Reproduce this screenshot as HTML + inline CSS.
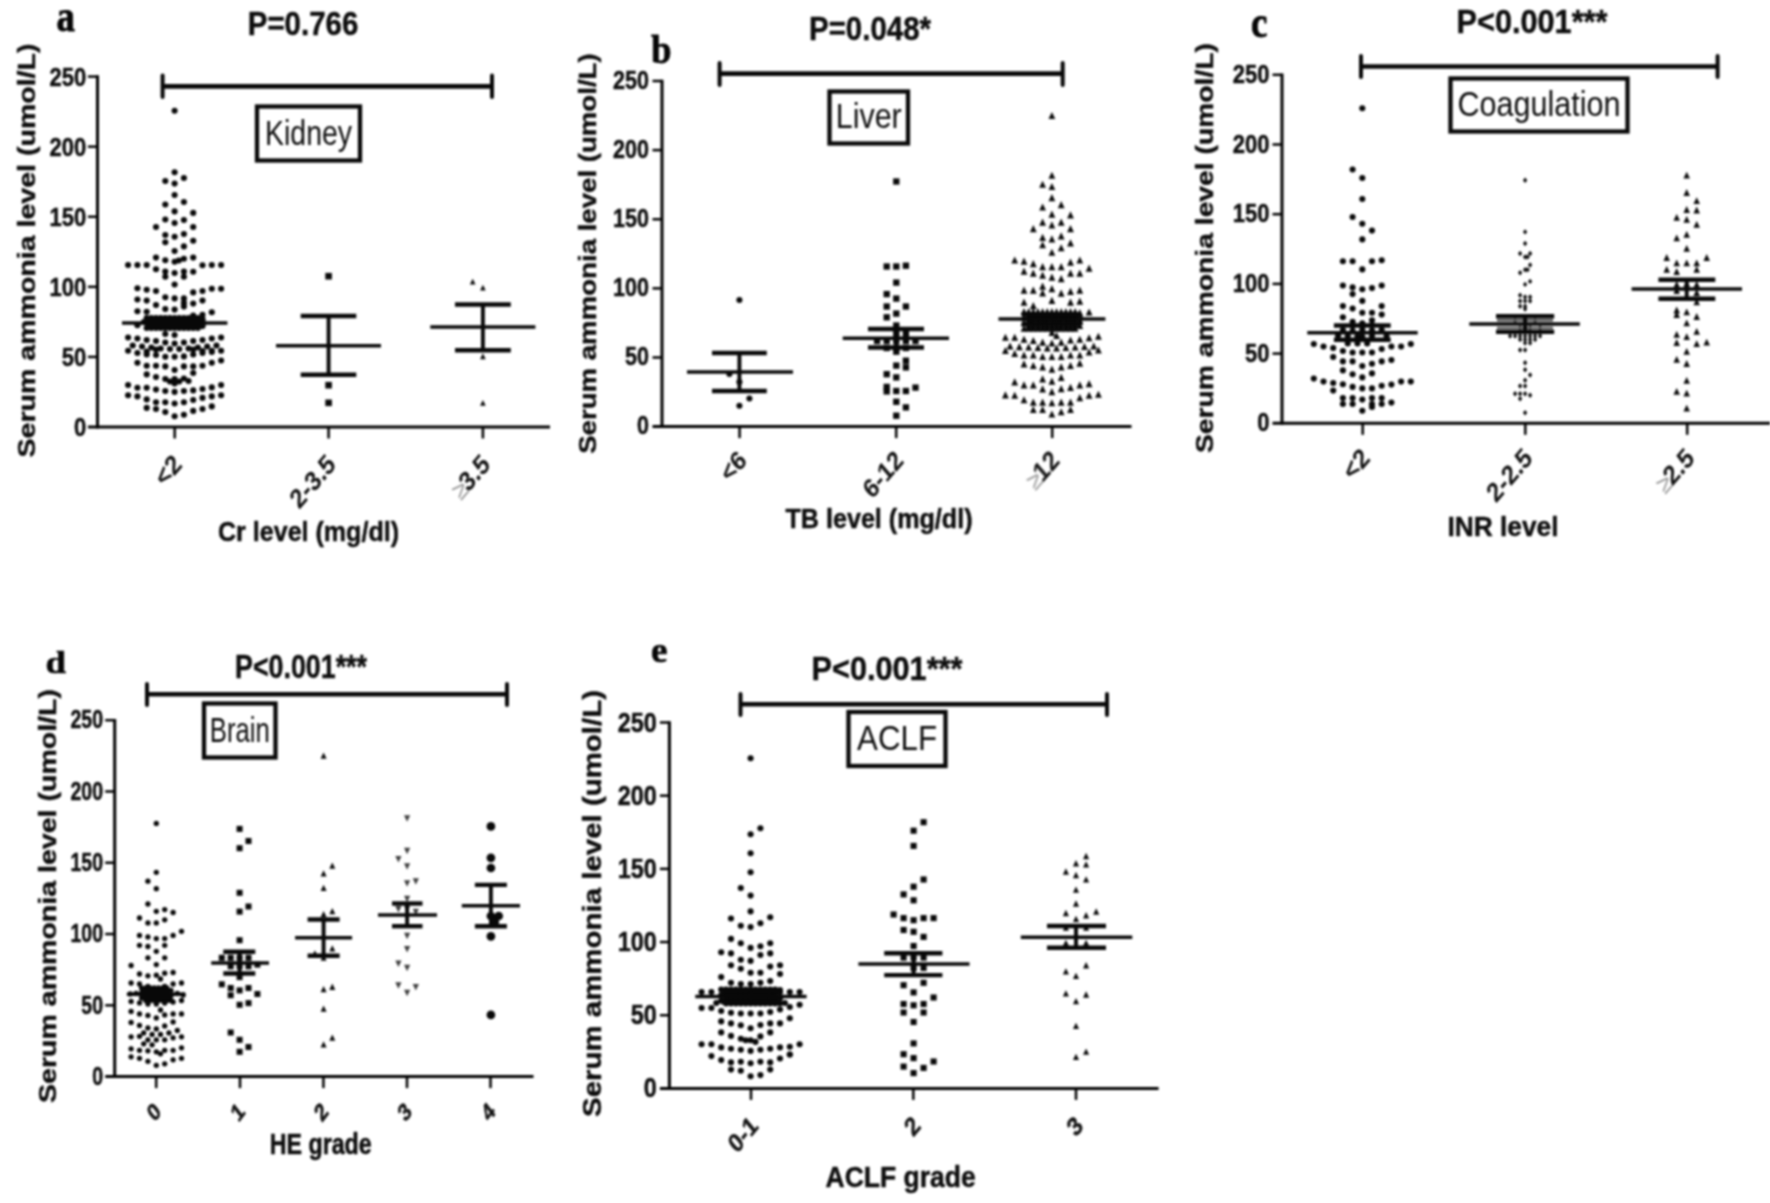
<!DOCTYPE html>
<html lang="en"><head><meta charset="utf-8"><title>Serum ammonia level by organ failure</title>
<style>
html,body{margin:0;padding:0;background:#fff;}
body{width:1770px;height:1203px;overflow:hidden;font-family:'Liberation Sans', Arial, Helvetica, sans-serif;}
svg text{white-space:pre;}
</style></head><body>
<svg width="1770" height="1203" viewBox="0 0 1770 1203" style="display:block">
<defs><filter id="soft" x="0" y="0" width="100%" height="100%" filterUnits="userSpaceOnUse" color-interpolation-filters="sRGB"><feGaussianBlur stdDeviation="0.8"/></filter></defs>
<g filter="url(#soft)">
<g id="panel-a">
<line x1="97.5" y1="75.35" x2="97.5" y2="428.5" stroke="#000" stroke-width="3" stroke-linecap="butt"/>
<line x1="88" y1="427" x2="550" y2="427" stroke="#000" stroke-width="3" stroke-linecap="butt"/>
<line x1="88" y1="76.6" x2="97.5" y2="76.6" stroke="#000" stroke-width="2.5" stroke-linecap="butt"/>
<text transform="translate(86.3 85.74) scale(1 1.16)" font-family="'Liberation Sans', Arial, Helvetica, sans-serif" font-size="22" font-weight="bold" text-anchor="end" fill="#0d0d0d" stroke="#0d0d0d" stroke-width="0.4" stroke-linejoin="round">250</text>
<line x1="88" y1="146.68" x2="97.5" y2="146.68" stroke="#000" stroke-width="2.5" stroke-linecap="butt"/>
<text transform="translate(86.3 155.82) scale(1 1.16)" font-family="'Liberation Sans', Arial, Helvetica, sans-serif" font-size="22" font-weight="bold" text-anchor="end" fill="#0d0d0d" stroke="#0d0d0d" stroke-width="0.4" stroke-linejoin="round">200</text>
<line x1="88" y1="216.76" x2="97.5" y2="216.76" stroke="#000" stroke-width="2.5" stroke-linecap="butt"/>
<text transform="translate(86.3 225.9) scale(1 1.16)" font-family="'Liberation Sans', Arial, Helvetica, sans-serif" font-size="22" font-weight="bold" text-anchor="end" fill="#0d0d0d" stroke="#0d0d0d" stroke-width="0.4" stroke-linejoin="round">150</text>
<line x1="88" y1="286.84" x2="97.5" y2="286.84" stroke="#000" stroke-width="2.5" stroke-linecap="butt"/>
<text transform="translate(86.3 295.98) scale(1 1.16)" font-family="'Liberation Sans', Arial, Helvetica, sans-serif" font-size="22" font-weight="bold" text-anchor="end" fill="#0d0d0d" stroke="#0d0d0d" stroke-width="0.4" stroke-linejoin="round">100</text>
<line x1="88" y1="356.92" x2="97.5" y2="356.92" stroke="#000" stroke-width="2.5" stroke-linecap="butt"/>
<text transform="translate(86.3 366.06) scale(1 1.16)" font-family="'Liberation Sans', Arial, Helvetica, sans-serif" font-size="22" font-weight="bold" text-anchor="end" fill="#0d0d0d" stroke="#0d0d0d" stroke-width="0.4" stroke-linejoin="round">50</text>
<text transform="translate(86.3 436.14) scale(1 1.16)" font-family="'Liberation Sans', Arial, Helvetica, sans-serif" font-size="22" font-weight="bold" text-anchor="end" fill="#0d0d0d" stroke="#0d0d0d" stroke-width="0.4" stroke-linejoin="round">0</text>
<line x1="174.7" y1="427" x2="174.7" y2="438.5" stroke="#000" stroke-width="2.5" stroke-linecap="butt"/>
<text transform="translate(183.2 466) scale(1 1.16) rotate(-45)" font-family="'Liberation Sans', Arial, Helvetica, sans-serif" font-size="23.5" font-weight="bold" text-anchor="end" fill="#141414" stroke="#141414" stroke-width="0.1" stroke-linejoin="round">&lt;2</text>
<line x1="328.6" y1="427" x2="328.6" y2="438.5" stroke="#000" stroke-width="2.5" stroke-linecap="butt"/>
<text transform="translate(337.1 466) scale(1 1.16) rotate(-45)" font-family="'Liberation Sans', Arial, Helvetica, sans-serif" font-size="23.5" font-weight="bold" text-anchor="end" fill="#141414" stroke="#141414" stroke-width="0.1" stroke-linejoin="round">2-3.5</text>
<line x1="482.9" y1="427" x2="482.9" y2="438.5" stroke="#000" stroke-width="2.5" stroke-linecap="butt"/>
<text transform="translate(491.4 466) scale(1 1.16) rotate(-45)" font-family="'Liberation Sans', Arial, Helvetica, sans-serif" font-size="23.5" font-weight="bold" text-anchor="end" fill="#141414" stroke="#141414" stroke-width="0.1" stroke-linejoin="round"><tspan fill="#9a9a9a" stroke="none" font-weight="normal">≥</tspan><tspan dx="-2.5">3.5</tspan></text>
<g>
<circle cx="174.6" cy="110.7" r="3.05" fill="#080808"/>
<circle cx="174.6" cy="172.3" r="3.05" fill="#080808"/>
<circle cx="183.9" cy="178" r="3.05" fill="#080808"/>
<circle cx="165.3" cy="181" r="3.05" fill="#080808"/>
<circle cx="174.6" cy="183.6" r="3.05" fill="#080808"/>
<circle cx="174.6" cy="195" r="3.05" fill="#080808"/>
<circle cx="183.9" cy="202" r="3.05" fill="#080808"/>
<circle cx="165.3" cy="204.5" r="3.05" fill="#080808"/>
<circle cx="174.6" cy="211.4" r="3.05" fill="#080808"/>
<circle cx="193.2" cy="212.9" r="3.05" fill="#080808"/>
<circle cx="165.3" cy="219.5" r="3.05" fill="#080808"/>
<circle cx="183.9" cy="220" r="3.05" fill="#080808"/>
<circle cx="174.6" cy="223" r="3.05" fill="#080808"/>
<circle cx="156" cy="227" r="3.05" fill="#080808"/>
<circle cx="193.2" cy="227" r="3.05" fill="#080808"/>
<circle cx="165.3" cy="235" r="3.05" fill="#080808"/>
<circle cx="183.9" cy="234" r="3.05" fill="#080808"/>
<circle cx="174.6" cy="236.8" r="3.05" fill="#080808"/>
<circle cx="165.3" cy="242.3" r="3.05" fill="#080808"/>
<circle cx="193.2" cy="240.8" r="3.05" fill="#080808"/>
<circle cx="183.9" cy="246.4" r="3.05" fill="#080808"/>
<circle cx="174.6" cy="251" r="3.05" fill="#080808"/>
<circle cx="156" cy="257.6" r="3.05" fill="#080808"/>
<circle cx="193.2" cy="257.6" r="3.05" fill="#080808"/>
<circle cx="165.3" cy="260.3" r="3.05" fill="#080808"/>
<circle cx="183.9" cy="258.8" r="3.05" fill="#080808"/>
<circle cx="174.6" cy="261.8" r="3.05" fill="#080808"/>
<circle cx="178.78" cy="260.5" r="3.05" fill="#080808"/>
<circle cx="128.1" cy="265" r="3.05" fill="#080808"/>
<circle cx="137.4" cy="265" r="3.05" fill="#080808"/>
<circle cx="146.7" cy="265" r="3.05" fill="#080808"/>
<circle cx="202.5" cy="265.3" r="3.05" fill="#080808"/>
<circle cx="211.8" cy="265" r="3.05" fill="#080808"/>
<circle cx="221.1" cy="265" r="3.05" fill="#080808"/>
<circle cx="156" cy="269.2" r="3.05" fill="#080808"/>
<circle cx="193.2" cy="271.7" r="3.05" fill="#080808"/>
<circle cx="165.3" cy="271.5" r="3.05" fill="#080808"/>
<circle cx="165.3" cy="276.7" r="3.05" fill="#080808"/>
<circle cx="174.6" cy="273" r="3.05" fill="#080808"/>
<circle cx="183.9" cy="271.5" r="3.05" fill="#080808"/>
<circle cx="183.9" cy="276.7" r="3.05" fill="#080808"/>
<circle cx="174.6" cy="284.5" r="3.05" fill="#080808"/>
<circle cx="137.4" cy="288.2" r="3.05" fill="#080808"/>
<circle cx="146.7" cy="289.7" r="3.05" fill="#080808"/>
<circle cx="156" cy="291" r="3.05" fill="#080808"/>
<circle cx="193.2" cy="292.4" r="3.05" fill="#080808"/>
<circle cx="202.5" cy="291" r="3.05" fill="#080808"/>
<circle cx="211.8" cy="288.7" r="3.05" fill="#080808"/>
<circle cx="221.1" cy="288.7" r="3.05" fill="#080808"/>
<circle cx="165.3" cy="297.3" r="3.05" fill="#080808"/>
<circle cx="174.6" cy="298.4" r="3.05" fill="#080808"/>
<circle cx="183.9" cy="298.4" r="3.05" fill="#080808"/>
<circle cx="183.9" cy="302.9" r="3.05" fill="#080808"/>
<circle cx="183.9" cy="306.6" r="3.05" fill="#080808"/>
<circle cx="137.4" cy="299.5" r="3.05" fill="#080808"/>
<circle cx="146.7" cy="300.6" r="3.05" fill="#080808"/>
<circle cx="202.5" cy="300.6" r="3.05" fill="#080808"/>
<circle cx="193.2" cy="303.6" r="3.05" fill="#080808"/>
<circle cx="156" cy="305" r="3.05" fill="#080808"/>
<circle cx="165.3" cy="309" r="3.05" fill="#080808"/>
<circle cx="174.6" cy="309.6" r="3.05" fill="#080808"/>
<circle cx="137.4" cy="311.2" r="3.05" fill="#080808"/>
<circle cx="146.7" cy="311.8" r="3.05" fill="#080808"/>
<circle cx="211.8" cy="312.3" r="3.05" fill="#080808"/>
<circle cx="202.5" cy="314.8" r="3.05" fill="#080808"/>
<circle cx="193.2" cy="315.5" r="3.05" fill="#080808"/>
<circle cx="137.4" cy="325.3" r="3.05" fill="#080808"/>
<circle cx="146.7" cy="318" r="3.05" fill="#080808"/>
<circle cx="151.35" cy="318" r="3.05" fill="#080808"/>
<circle cx="156" cy="318" r="3.05" fill="#080808"/>
<circle cx="160.65" cy="318" r="3.05" fill="#080808"/>
<circle cx="165.3" cy="318" r="3.05" fill="#080808"/>
<circle cx="169.95" cy="318" r="3.05" fill="#080808"/>
<circle cx="174.6" cy="318" r="3.05" fill="#080808"/>
<circle cx="179.25" cy="318" r="3.05" fill="#080808"/>
<circle cx="183.9" cy="318" r="3.05" fill="#080808"/>
<circle cx="188.55" cy="318" r="3.05" fill="#080808"/>
<circle cx="193.2" cy="318" r="3.05" fill="#080808"/>
<circle cx="197.85" cy="318" r="3.05" fill="#080808"/>
<circle cx="151.35" cy="320.5" r="3.05" fill="#080808"/>
<circle cx="156" cy="320.5" r="3.05" fill="#080808"/>
<circle cx="160.65" cy="320.5" r="3.05" fill="#080808"/>
<circle cx="165.3" cy="320.5" r="3.05" fill="#080808"/>
<circle cx="169.95" cy="320.5" r="3.05" fill="#080808"/>
<circle cx="174.6" cy="320.5" r="3.05" fill="#080808"/>
<circle cx="179.25" cy="320.5" r="3.05" fill="#080808"/>
<circle cx="183.9" cy="320.5" r="3.05" fill="#080808"/>
<circle cx="188.55" cy="320.5" r="3.05" fill="#080808"/>
<circle cx="193.2" cy="320.5" r="3.05" fill="#080808"/>
<circle cx="197.85" cy="320.5" r="3.05" fill="#080808"/>
<circle cx="202.5" cy="320.5" r="3.05" fill="#080808"/>
<circle cx="146.7" cy="323" r="3.05" fill="#080808"/>
<circle cx="151.35" cy="323" r="3.05" fill="#080808"/>
<circle cx="156" cy="323" r="3.05" fill="#080808"/>
<circle cx="160.65" cy="323" r="3.05" fill="#080808"/>
<circle cx="165.3" cy="323" r="3.05" fill="#080808"/>
<circle cx="169.95" cy="323" r="3.05" fill="#080808"/>
<circle cx="174.6" cy="323" r="3.05" fill="#080808"/>
<circle cx="179.25" cy="323" r="3.05" fill="#080808"/>
<circle cx="183.9" cy="323" r="3.05" fill="#080808"/>
<circle cx="188.55" cy="323" r="3.05" fill="#080808"/>
<circle cx="193.2" cy="323" r="3.05" fill="#080808"/>
<circle cx="197.85" cy="323" r="3.05" fill="#080808"/>
<circle cx="151.35" cy="325.5" r="3.05" fill="#080808"/>
<circle cx="156" cy="325.5" r="3.05" fill="#080808"/>
<circle cx="160.65" cy="325.5" r="3.05" fill="#080808"/>
<circle cx="165.3" cy="325.5" r="3.05" fill="#080808"/>
<circle cx="169.95" cy="325.5" r="3.05" fill="#080808"/>
<circle cx="174.6" cy="325.5" r="3.05" fill="#080808"/>
<circle cx="179.25" cy="325.5" r="3.05" fill="#080808"/>
<circle cx="183.9" cy="325.5" r="3.05" fill="#080808"/>
<circle cx="188.55" cy="325.5" r="3.05" fill="#080808"/>
<circle cx="193.2" cy="325.5" r="3.05" fill="#080808"/>
<circle cx="197.85" cy="325.5" r="3.05" fill="#080808"/>
<circle cx="202.5" cy="325.5" r="3.05" fill="#080808"/>
<circle cx="146.7" cy="328" r="3.05" fill="#080808"/>
<circle cx="151.35" cy="328" r="3.05" fill="#080808"/>
<circle cx="156" cy="328" r="3.05" fill="#080808"/>
<circle cx="160.65" cy="328" r="3.05" fill="#080808"/>
<circle cx="165.3" cy="328" r="3.05" fill="#080808"/>
<circle cx="169.95" cy="328" r="3.05" fill="#080808"/>
<circle cx="174.6" cy="328" r="3.05" fill="#080808"/>
<circle cx="179.25" cy="328" r="3.05" fill="#080808"/>
<circle cx="183.9" cy="328" r="3.05" fill="#080808"/>
<circle cx="188.55" cy="328" r="3.05" fill="#080808"/>
<circle cx="193.2" cy="328" r="3.05" fill="#080808"/>
<circle cx="197.85" cy="328" r="3.05" fill="#080808"/>
<circle cx="202.5" cy="319" r="3.05" fill="#080808"/>
<circle cx="202.5" cy="326" r="3.05" fill="#080808"/>
<circle cx="143.91" cy="322" r="3.05" fill="#080808"/>
<circle cx="128.1" cy="337.5" r="3.05" fill="#080808"/>
<circle cx="137.4" cy="338.5" r="3.05" fill="#080808"/>
<circle cx="146.7" cy="340" r="3.05" fill="#080808"/>
<circle cx="156" cy="341" r="3.05" fill="#080808"/>
<circle cx="165.3" cy="342.5" r="3.05" fill="#080808"/>
<circle cx="174.6" cy="343.5" r="3.05" fill="#080808"/>
<circle cx="183.9" cy="342.5" r="3.05" fill="#080808"/>
<circle cx="193.2" cy="341" r="3.05" fill="#080808"/>
<circle cx="202.5" cy="340" r="3.05" fill="#080808"/>
<circle cx="211.8" cy="338.5" r="3.05" fill="#080808"/>
<circle cx="221.1" cy="337.5" r="3.05" fill="#080808"/>
<circle cx="132.75" cy="345.5" r="3.05" fill="#080808"/>
<circle cx="142.05" cy="346.5" r="3.05" fill="#080808"/>
<circle cx="151.35" cy="347.5" r="3.05" fill="#080808"/>
<circle cx="160.65" cy="348.5" r="3.05" fill="#080808"/>
<circle cx="169.95" cy="349" r="3.05" fill="#080808"/>
<circle cx="179.25" cy="349" r="3.05" fill="#080808"/>
<circle cx="188.55" cy="348.5" r="3.05" fill="#080808"/>
<circle cx="197.85" cy="347.5" r="3.05" fill="#080808"/>
<circle cx="207.15" cy="346.5" r="3.05" fill="#080808"/>
<circle cx="216.45" cy="345.5" r="3.05" fill="#080808"/>
<circle cx="128.1" cy="350.7" r="3.05" fill="#080808"/>
<circle cx="137.4" cy="353" r="3.05" fill="#080808"/>
<circle cx="211.8" cy="352" r="3.05" fill="#080808"/>
<circle cx="221.1" cy="350.7" r="3.05" fill="#080808"/>
<circle cx="174.6" cy="335" r="3.05" fill="#080808"/>
<circle cx="165.3" cy="334" r="3.05" fill="#080808"/>
<circle cx="146.7" cy="351.5" r="3.05" fill="#080808"/>
<circle cx="202.5" cy="351" r="3.05" fill="#080808"/>
<circle cx="156" cy="349.5" r="3.05" fill="#080808"/>
<circle cx="193.2" cy="349.5" r="3.05" fill="#080808"/>
<circle cx="146.7" cy="354.5" r="3.05" fill="#080808"/>
<circle cx="156" cy="355" r="3.05" fill="#080808"/>
<circle cx="165.3" cy="356.7" r="3.05" fill="#080808"/>
<circle cx="174.6" cy="356.7" r="3.05" fill="#080808"/>
<circle cx="183.9" cy="356.4" r="3.05" fill="#080808"/>
<circle cx="193.2" cy="354.5" r="3.05" fill="#080808"/>
<circle cx="202.5" cy="353" r="3.05" fill="#080808"/>
<circle cx="211.8" cy="350.7" r="3.05" fill="#080808"/>
<circle cx="137.4" cy="362.7" r="3.05" fill="#080808"/>
<circle cx="221.1" cy="360.5" r="3.05" fill="#080808"/>
<circle cx="211.8" cy="362.7" r="3.05" fill="#080808"/>
<circle cx="202.5" cy="365.7" r="3.05" fill="#080808"/>
<circle cx="146.7" cy="365.7" r="3.05" fill="#080808"/>
<circle cx="156" cy="365.7" r="3.05" fill="#080808"/>
<circle cx="165.3" cy="366.4" r="3.05" fill="#080808"/>
<circle cx="174.6" cy="370" r="3.05" fill="#080808"/>
<circle cx="183.9" cy="366.4" r="3.05" fill="#080808"/>
<circle cx="193.2" cy="366.4" r="3.05" fill="#080808"/>
<circle cx="193.2" cy="373" r="3.05" fill="#080808"/>
<circle cx="146.7" cy="374.4" r="3.05" fill="#080808"/>
<circle cx="156" cy="377" r="3.05" fill="#080808"/>
<circle cx="165.3" cy="379" r="3.05" fill="#080808"/>
<circle cx="169.95" cy="381.5" r="3.05" fill="#080808"/>
<circle cx="174.6" cy="383.5" r="3.05" fill="#080808"/>
<circle cx="179.25" cy="381.5" r="3.05" fill="#080808"/>
<circle cx="183.9" cy="378.5" r="3.05" fill="#080808"/>
<circle cx="188.55" cy="381" r="3.05" fill="#080808"/>
<circle cx="174.6" cy="379" r="3.05" fill="#080808"/>
<circle cx="128.1" cy="385" r="3.05" fill="#080808"/>
<circle cx="137.4" cy="387.8" r="3.05" fill="#080808"/>
<circle cx="146.7" cy="387.8" r="3.05" fill="#080808"/>
<circle cx="156" cy="389.6" r="3.05" fill="#080808"/>
<circle cx="165.3" cy="391" r="3.05" fill="#080808"/>
<circle cx="174.6" cy="391.9" r="3.05" fill="#080808"/>
<circle cx="183.9" cy="391" r="3.05" fill="#080808"/>
<circle cx="193.2" cy="390.4" r="3.05" fill="#080808"/>
<circle cx="202.5" cy="389" r="3.05" fill="#080808"/>
<circle cx="211.8" cy="387.4" r="3.05" fill="#080808"/>
<circle cx="221.1" cy="385" r="3.05" fill="#080808"/>
<circle cx="128.1" cy="395.3" r="3.05" fill="#080808"/>
<circle cx="137.4" cy="396.4" r="3.05" fill="#080808"/>
<circle cx="146.7" cy="399.4" r="3.05" fill="#080808"/>
<circle cx="156" cy="402.3" r="3.05" fill="#080808"/>
<circle cx="165.3" cy="402.3" r="3.05" fill="#080808"/>
<circle cx="174.6" cy="403.5" r="3.05" fill="#080808"/>
<circle cx="183.9" cy="402.3" r="3.05" fill="#080808"/>
<circle cx="193.2" cy="400" r="3.05" fill="#080808"/>
<circle cx="202.5" cy="397.9" r="3.05" fill="#080808"/>
<circle cx="211.8" cy="396.4" r="3.05" fill="#080808"/>
<circle cx="221.1" cy="395.3" r="3.05" fill="#080808"/>
<circle cx="146.7" cy="407.9" r="3.05" fill="#080808"/>
<circle cx="156" cy="409" r="3.05" fill="#080808"/>
<circle cx="165.3" cy="412" r="3.05" fill="#080808"/>
<circle cx="174.6" cy="416.3" r="3.05" fill="#080808"/>
<circle cx="183.9" cy="414.8" r="3.05" fill="#080808"/>
<circle cx="193.2" cy="410.9" r="3.05" fill="#080808"/>
<circle cx="202.5" cy="409" r="3.05" fill="#080808"/>
<circle cx="211.8" cy="406.4" r="3.05" fill="#080808"/>
</g>
<g>
<rect x="325.3" y="272.9" width="6.6" height="6.6" fill="#080808"/>
<rect x="325.3" y="381.9" width="6.6" height="6.6" fill="#080808"/>
<rect x="325.3" y="399.5" width="6.6" height="6.6" fill="#080808"/>
</g>
<g>
<polygon points="472.7,278.64 475.5,284.52 469.9,284.52" fill="#080808"/>
<polygon points="482.9,284.64 485.7,290.52 480.1,290.52" fill="#080808"/>
<polygon points="482.9,353.34 485.7,359.22 480.1,359.22" fill="#080808"/>
<polygon points="482.9,399.94 485.7,405.82 480.1,405.82" fill="#080808"/>
</g>
<line x1="122" y1="323" x2="227.4" y2="323" stroke="#080808" stroke-width="3.5" stroke-linecap="butt"/>
<line x1="146" y1="319.5" x2="204" y2="319.5" stroke="#080808" stroke-width="4.4" stroke-linecap="butt"/>
<line x1="146" y1="326.5" x2="204" y2="326.5" stroke="#080808" stroke-width="4.4" stroke-linecap="butt"/>
<line x1="174.6" y1="319.5" x2="174.6" y2="326.5" stroke="#080808" stroke-width="3.9" stroke-linecap="butt"/>
<line x1="276" y1="345.7" x2="381" y2="345.7" stroke="#080808" stroke-width="3.5" stroke-linecap="butt"/>
<line x1="300.7" y1="316" x2="356.3" y2="316" stroke="#080808" stroke-width="4.4" stroke-linecap="butt"/>
<line x1="300.7" y1="374.8" x2="356.3" y2="374.8" stroke="#080808" stroke-width="4.4" stroke-linecap="butt"/>
<line x1="328.6" y1="316" x2="328.6" y2="374.8" stroke="#080808" stroke-width="3.9" stroke-linecap="butt"/>
<line x1="430.3" y1="327" x2="535.4" y2="327" stroke="#080808" stroke-width="3.5" stroke-linecap="butt"/>
<line x1="455" y1="304.5" x2="510.8" y2="304.5" stroke="#080808" stroke-width="4.4" stroke-linecap="butt"/>
<line x1="455" y1="350.3" x2="510.8" y2="350.3" stroke="#080808" stroke-width="4.4" stroke-linecap="butt"/>
<line x1="482.9" y1="304.5" x2="482.9" y2="350.3" stroke="#080808" stroke-width="3.9" stroke-linecap="butt"/>
<line x1="162.6" y1="86.4" x2="492" y2="86.4" stroke="#080808" stroke-width="4.6" stroke-linecap="butt"/>
<line x1="162.6" y1="75.5" x2="162.6" y2="97" stroke="#080808" stroke-width="4" stroke-linecap="round"/>
<line x1="492" y1="75.5" x2="492" y2="97" stroke="#080808" stroke-width="4" stroke-linecap="round"/>
<text transform="translate(303 35) scale(1 1.15)" font-family="'Liberation Sans', Arial, Helvetica, sans-serif" font-size="29.3" font-weight="bold" text-anchor="middle" fill="#0d0d0d" stroke="#0d0d0d" stroke-width="0.4" stroke-linejoin="round" textLength="110.5" lengthAdjust="spacingAndGlyphs">P=0.766</text>
<text transform="translate(56.5 30.5) scale(1 1.17)" font-family="'Liberation Serif', 'Times New Roman', serif" font-size="37" font-weight="bold" text-anchor="start" fill="#050505" stroke="#050505" stroke-width="0.7" stroke-linejoin="round">a</text>
<rect x="257" y="106.5" width="103" height="54" fill="none" stroke="#080808" stroke-width="4.3"/>
<text transform="translate(308.5 144.5) scale(1 1.18)" font-family="'Liberation Sans', Arial, Helvetica, sans-serif" font-size="30" font-weight="normal" text-anchor="middle" fill="#0d0d0d" textLength="87" lengthAdjust="spacingAndGlyphs">Kidney</text>
<text transform="translate(308.5 541) scale(1 1.16)" font-family="'Liberation Sans', Arial, Helvetica, sans-serif" font-size="24.3" font-weight="bold" text-anchor="middle" fill="#0d0d0d" stroke="#0d0d0d" stroke-width="0.4" stroke-linejoin="round" textLength="181" lengthAdjust="spacingAndGlyphs">Cr level (mg/dl)</text>
<text transform="translate(35.2 250.5) rotate(-90)" font-family="'Liberation Sans', Arial, Helvetica, sans-serif" font-size="24.3" font-weight="bold" text-anchor="middle" fill="#0d0d0d" stroke="#0d0d0d" stroke-width="0.4" stroke-linejoin="round" textLength="414" lengthAdjust="spacingAndGlyphs">Serum ammonia level (umol/L)</text>
</g>
<g id="panel-b">
<line x1="662" y1="79.75" x2="662" y2="428.1" stroke="#000" stroke-width="3" stroke-linecap="butt"/>
<line x1="652.5" y1="426.6" x2="1131.5" y2="426.6" stroke="#000" stroke-width="3" stroke-linecap="butt"/>
<line x1="652.5" y1="81" x2="662" y2="81" stroke="#000" stroke-width="2.5" stroke-linecap="butt"/>
<text transform="translate(648.9 88.73) scale(1 1.16)" font-family="'Liberation Sans', Arial, Helvetica, sans-serif" font-size="21.5" font-weight="bold" text-anchor="end" fill="#0d0d0d" stroke="#0d0d0d" stroke-width="0.4" stroke-linejoin="round">250</text>
<line x1="652.5" y1="150.12" x2="662" y2="150.12" stroke="#000" stroke-width="2.5" stroke-linecap="butt"/>
<text transform="translate(648.9 157.85) scale(1 1.16)" font-family="'Liberation Sans', Arial, Helvetica, sans-serif" font-size="21.5" font-weight="bold" text-anchor="end" fill="#0d0d0d" stroke="#0d0d0d" stroke-width="0.4" stroke-linejoin="round">200</text>
<line x1="652.5" y1="219.24" x2="662" y2="219.24" stroke="#000" stroke-width="2.5" stroke-linecap="butt"/>
<text transform="translate(648.9 226.97) scale(1 1.16)" font-family="'Liberation Sans', Arial, Helvetica, sans-serif" font-size="21.5" font-weight="bold" text-anchor="end" fill="#0d0d0d" stroke="#0d0d0d" stroke-width="0.4" stroke-linejoin="round">150</text>
<line x1="652.5" y1="288.36" x2="662" y2="288.36" stroke="#000" stroke-width="2.5" stroke-linecap="butt"/>
<text transform="translate(648.9 296.09) scale(1 1.16)" font-family="'Liberation Sans', Arial, Helvetica, sans-serif" font-size="21.5" font-weight="bold" text-anchor="end" fill="#0d0d0d" stroke="#0d0d0d" stroke-width="0.4" stroke-linejoin="round">100</text>
<line x1="652.5" y1="357.48" x2="662" y2="357.48" stroke="#000" stroke-width="2.5" stroke-linecap="butt"/>
<text transform="translate(648.9 365.21) scale(1 1.16)" font-family="'Liberation Sans', Arial, Helvetica, sans-serif" font-size="21.5" font-weight="bold" text-anchor="end" fill="#0d0d0d" stroke="#0d0d0d" stroke-width="0.4" stroke-linejoin="round">50</text>
<text transform="translate(648.9 434.33) scale(1 1.16)" font-family="'Liberation Sans', Arial, Helvetica, sans-serif" font-size="21.5" font-weight="bold" text-anchor="end" fill="#0d0d0d" stroke="#0d0d0d" stroke-width="0.4" stroke-linejoin="round">0</text>
<line x1="739.6" y1="426.6" x2="739.6" y2="438.1" stroke="#000" stroke-width="2.5" stroke-linecap="butt"/>
<text transform="translate(748.1 462.1) scale(1 1.16) rotate(-45)" font-family="'Liberation Sans', Arial, Helvetica, sans-serif" font-size="23" font-weight="bold" text-anchor="end" fill="#141414" stroke="#141414" stroke-width="0.1" stroke-linejoin="round">&lt;6</text>
<line x1="896.2" y1="426.6" x2="896.2" y2="438.1" stroke="#000" stroke-width="2.5" stroke-linecap="butt"/>
<text transform="translate(904.7 462.1) scale(1 1.16) rotate(-45)" font-family="'Liberation Sans', Arial, Helvetica, sans-serif" font-size="23" font-weight="bold" text-anchor="end" fill="#141414" stroke="#141414" stroke-width="0.1" stroke-linejoin="round">6-12</text>
<line x1="1052.2" y1="426.6" x2="1052.2" y2="438.1" stroke="#000" stroke-width="2.5" stroke-linecap="butt"/>
<text transform="translate(1060.7 462.1) scale(1 1.16) rotate(-45)" font-family="'Liberation Sans', Arial, Helvetica, sans-serif" font-size="23" font-weight="bold" text-anchor="end" fill="#141414" stroke="#141414" stroke-width="0.1" stroke-linejoin="round"><tspan fill="#9a9a9a" stroke="none" font-weight="normal">≥</tspan><tspan dx="-2.5">12</tspan></text>
<g>
<circle cx="739.4" cy="300" r="3.05" fill="#080808"/>
<circle cx="729.4" cy="374" r="3.05" fill="#080808"/>
<circle cx="739.4" cy="382" r="3.05" fill="#080808"/>
<circle cx="749.4" cy="398.5" r="3.05" fill="#080808"/>
<circle cx="739.4" cy="405.8" r="3.05" fill="#080808"/>
</g>
<g>
<rect x="893.15" y="178.35" width="6.3" height="6.3" fill="#080808"/>
<rect x="883.55" y="263.35" width="6.3" height="6.3" fill="#080808"/>
<rect x="893.15" y="263.35" width="6.3" height="6.3" fill="#080808"/>
<rect x="902.75" y="262.55" width="6.3" height="6.3" fill="#080808"/>
<rect x="893.15" y="279.45" width="6.3" height="6.3" fill="#080808"/>
<rect x="883.55" y="290.95" width="6.3" height="6.3" fill="#080808"/>
<rect x="893.15" y="295.45" width="6.3" height="6.3" fill="#080808"/>
<rect x="883.55" y="303.35" width="6.3" height="6.3" fill="#080808"/>
<rect x="902.75" y="303.35" width="6.3" height="6.3" fill="#080808"/>
<rect x="893.15" y="310.45" width="6.3" height="6.3" fill="#080808"/>
<rect x="883.55" y="314.15" width="6.3" height="6.3" fill="#080808"/>
<rect x="893.15" y="322.35" width="6.3" height="6.3" fill="#080808"/>
<rect x="893.15" y="330.65" width="6.3" height="6.3" fill="#080808"/>
<rect x="902.75" y="330.65" width="6.3" height="6.3" fill="#080808"/>
<rect x="873.95" y="337.85" width="6.3" height="6.3" fill="#080808"/>
<rect x="883.55" y="337.85" width="6.3" height="6.3" fill="#080808"/>
<rect x="893.15" y="337.85" width="6.3" height="6.3" fill="#080808"/>
<rect x="902.75" y="337.85" width="6.3" height="6.3" fill="#080808"/>
<rect x="912.35" y="337.85" width="6.3" height="6.3" fill="#080808"/>
<rect x="883.55" y="344.85" width="6.3" height="6.3" fill="#080808"/>
<rect x="893.15" y="344.85" width="6.3" height="6.3" fill="#080808"/>
<rect x="902.75" y="344.85" width="6.3" height="6.3" fill="#080808"/>
<rect x="893.15" y="348.55" width="6.3" height="6.3" fill="#080808"/>
<rect x="902.75" y="357.55" width="6.3" height="6.3" fill="#080808"/>
<rect x="902.75" y="364.25" width="6.3" height="6.3" fill="#080808"/>
<rect x="893.15" y="362.45" width="6.3" height="6.3" fill="#080808"/>
<rect x="883.55" y="371.05" width="6.3" height="6.3" fill="#080808"/>
<rect x="893.15" y="374.25" width="6.3" height="6.3" fill="#080808"/>
<rect x="883.55" y="383.75" width="6.3" height="6.3" fill="#080808"/>
<rect x="883.55" y="388.25" width="6.3" height="6.3" fill="#080808"/>
<rect x="893.15" y="387.85" width="6.3" height="6.3" fill="#080808"/>
<rect x="902.75" y="387.85" width="6.3" height="6.3" fill="#080808"/>
<rect x="912.35" y="384.45" width="6.3" height="6.3" fill="#080808"/>
<rect x="893.15" y="398.65" width="6.3" height="6.3" fill="#080808"/>
<rect x="902.75" y="404.25" width="6.3" height="6.3" fill="#080808"/>
<rect x="893.15" y="412.55" width="6.3" height="6.3" fill="#080808"/>
</g>
<g>
<polygon points="1051.9,111.92 1055.3,119.06 1048.5,119.06" fill="#080808"/>
<polygon points="1051.9,171.72 1055.3,178.86 1048.5,178.86" fill="#080808"/>
<polygon points="1042.6,180.72 1046,187.86 1039.2,187.86" fill="#080808"/>
<polygon points="1051.9,182.92 1055.3,190.06 1048.5,190.06" fill="#080808"/>
<polygon points="1051.9,194.12 1055.3,201.26 1048.5,201.26" fill="#080808"/>
<polygon points="1061.2,201.12 1064.6,208.26 1057.8,208.26" fill="#080808"/>
<polygon points="1042.6,203.42 1046,210.56 1039.2,210.56" fill="#080808"/>
<polygon points="1051.9,210.62 1055.3,217.76 1048.5,217.76" fill="#080808"/>
<polygon points="1070.5,211.32 1073.9,218.46 1067.1,218.46" fill="#080808"/>
<polygon points="1042.6,218.52 1046,225.66 1039.2,225.66" fill="#080808"/>
<polygon points="1061.2,218.52 1064.6,225.66 1057.8,225.66" fill="#080808"/>
<polygon points="1051.9,221.32 1055.3,228.46 1048.5,228.46" fill="#080808"/>
<polygon points="1033.3,225.12 1036.7,232.26 1029.9,232.26" fill="#080808"/>
<polygon points="1070.5,225.12 1073.9,232.26 1067.1,232.26" fill="#080808"/>
<polygon points="1042.6,233.82 1046,240.96 1039.2,240.96" fill="#080808"/>
<polygon points="1061.2,232.32 1064.6,239.46 1057.8,239.46" fill="#080808"/>
<polygon points="1051.9,235.32 1055.3,242.46 1048.5,242.46" fill="#080808"/>
<polygon points="1042.6,241.22 1046,248.36 1039.2,248.36" fill="#080808"/>
<polygon points="1070.5,239.32 1073.9,246.46 1067.1,246.46" fill="#080808"/>
<polygon points="1061.2,244.22 1064.6,251.36 1057.8,251.36" fill="#080808"/>
<polygon points="1051.9,248.72 1055.3,255.86 1048.5,255.86" fill="#080808"/>
<polygon points="1014.7,256.42 1018.1,263.56 1011.3,263.56" fill="#080808"/>
<polygon points="1024,257.62 1027.4,264.76 1020.6,264.76" fill="#080808"/>
<polygon points="1033.3,260.12 1036.7,267.26 1029.9,267.26" fill="#080808"/>
<polygon points="1042.6,263.12 1046,270.26 1039.2,270.26" fill="#080808"/>
<polygon points="1051.9,263.12 1055.3,270.26 1048.5,270.26" fill="#080808"/>
<polygon points="1061.2,263.12 1064.6,270.26 1057.8,270.26" fill="#080808"/>
<polygon points="1070.5,258.62 1073.9,265.76 1067.1,265.76" fill="#080808"/>
<polygon points="1079.8,256.42 1083.2,263.56 1076.4,263.56" fill="#080808"/>
<polygon points="1089.1,264.62 1092.5,271.76 1085.7,271.76" fill="#080808"/>
<polygon points="1024,267.62 1027.4,274.76 1020.6,274.76" fill="#080808"/>
<polygon points="1033.3,269.52 1036.7,276.66 1029.9,276.66" fill="#080808"/>
<polygon points="1042.6,271.62 1046,278.76 1039.2,278.76" fill="#080808"/>
<polygon points="1051.9,273.62 1055.3,280.76 1048.5,280.76" fill="#080808"/>
<polygon points="1061.2,275.12 1064.6,282.26 1057.8,282.26" fill="#080808"/>
<polygon points="1070.5,269.52 1073.9,276.66 1067.1,276.66" fill="#080808"/>
<polygon points="1079.8,269.52 1083.2,276.66 1076.4,276.66" fill="#080808"/>
<polygon points="1024,286.62 1027.4,293.76 1020.6,293.76" fill="#080808"/>
<polygon points="1033.3,286.62 1036.7,293.76 1029.9,293.76" fill="#080808"/>
<polygon points="1042.6,282.52 1046,289.66 1039.2,289.66" fill="#080808"/>
<polygon points="1042.6,289.32 1046,296.46 1039.2,296.46" fill="#080808"/>
<polygon points="1051.9,285.12 1055.3,292.26 1048.5,292.26" fill="#080808"/>
<polygon points="1061.2,289.62 1064.6,296.76 1057.8,296.76" fill="#080808"/>
<polygon points="1070.5,287.82 1073.9,294.96 1067.1,294.96" fill="#080808"/>
<polygon points="1079.8,286.62 1083.2,293.76 1076.4,293.76" fill="#080808"/>
<polygon points="1024,298.62 1027.4,305.76 1020.6,305.76" fill="#080808"/>
<polygon points="1033.3,302.02 1036.7,309.16 1029.9,309.16" fill="#080808"/>
<polygon points="1051.9,296.82 1055.3,303.96 1048.5,303.96" fill="#080808"/>
<polygon points="1070.5,298.62 1073.9,305.76 1067.1,305.76" fill="#080808"/>
<polygon points="1079.8,297.52 1083.2,304.66 1076.4,304.66" fill="#080808"/>
<polygon points="1089.1,308.42 1092.5,315.56 1085.7,315.56" fill="#080808"/>
<polygon points="1051.9,328.92 1055.3,336.06 1048.5,336.06" fill="#080808"/>
<polygon points="1056.55,331.92 1059.95,339.06 1053.15,339.06" fill="#080808"/>
<polygon points="1024,307.92 1027.4,315.06 1020.6,315.06" fill="#080808"/>
<polygon points="1028.65,307.92 1032.05,315.06 1025.25,315.06" fill="#080808"/>
<polygon points="1033.3,307.92 1036.7,315.06 1029.9,315.06" fill="#080808"/>
<polygon points="1037.95,307.92 1041.35,315.06 1034.55,315.06" fill="#080808"/>
<polygon points="1042.6,307.92 1046,315.06 1039.2,315.06" fill="#080808"/>
<polygon points="1047.25,307.92 1050.65,315.06 1043.85,315.06" fill="#080808"/>
<polygon points="1051.9,307.92 1055.3,315.06 1048.5,315.06" fill="#080808"/>
<polygon points="1056.55,307.92 1059.95,315.06 1053.15,315.06" fill="#080808"/>
<polygon points="1061.2,307.92 1064.6,315.06 1057.8,315.06" fill="#080808"/>
<polygon points="1065.85,307.92 1069.25,315.06 1062.45,315.06" fill="#080808"/>
<polygon points="1070.5,307.92 1073.9,315.06 1067.1,315.06" fill="#080808"/>
<polygon points="1075.15,307.92 1078.55,315.06 1071.75,315.06" fill="#080808"/>
<polygon points="1028.65,310.72 1032.05,317.86 1025.25,317.86" fill="#080808"/>
<polygon points="1033.3,310.72 1036.7,317.86 1029.9,317.86" fill="#080808"/>
<polygon points="1037.95,310.72 1041.35,317.86 1034.55,317.86" fill="#080808"/>
<polygon points="1042.6,310.72 1046,317.86 1039.2,317.86" fill="#080808"/>
<polygon points="1047.25,310.72 1050.65,317.86 1043.85,317.86" fill="#080808"/>
<polygon points="1051.9,310.72 1055.3,317.86 1048.5,317.86" fill="#080808"/>
<polygon points="1056.55,310.72 1059.95,317.86 1053.15,317.86" fill="#080808"/>
<polygon points="1061.2,310.72 1064.6,317.86 1057.8,317.86" fill="#080808"/>
<polygon points="1065.85,310.72 1069.25,317.86 1062.45,317.86" fill="#080808"/>
<polygon points="1070.5,310.72 1073.9,317.86 1067.1,317.86" fill="#080808"/>
<polygon points="1075.15,310.72 1078.55,317.86 1071.75,317.86" fill="#080808"/>
<polygon points="1079.8,310.72 1083.2,317.86 1076.4,317.86" fill="#080808"/>
<polygon points="1024,313.52 1027.4,320.66 1020.6,320.66" fill="#080808"/>
<polygon points="1028.65,313.52 1032.05,320.66 1025.25,320.66" fill="#080808"/>
<polygon points="1033.3,313.52 1036.7,320.66 1029.9,320.66" fill="#080808"/>
<polygon points="1037.95,313.52 1041.35,320.66 1034.55,320.66" fill="#080808"/>
<polygon points="1042.6,313.52 1046,320.66 1039.2,320.66" fill="#080808"/>
<polygon points="1047.25,313.52 1050.65,320.66 1043.85,320.66" fill="#080808"/>
<polygon points="1051.9,313.52 1055.3,320.66 1048.5,320.66" fill="#080808"/>
<polygon points="1056.55,313.52 1059.95,320.66 1053.15,320.66" fill="#080808"/>
<polygon points="1061.2,313.52 1064.6,320.66 1057.8,320.66" fill="#080808"/>
<polygon points="1065.85,313.52 1069.25,320.66 1062.45,320.66" fill="#080808"/>
<polygon points="1070.5,313.52 1073.9,320.66 1067.1,320.66" fill="#080808"/>
<polygon points="1075.15,313.52 1078.55,320.66 1071.75,320.66" fill="#080808"/>
<polygon points="1028.65,316.32 1032.05,323.46 1025.25,323.46" fill="#080808"/>
<polygon points="1033.3,316.32 1036.7,323.46 1029.9,323.46" fill="#080808"/>
<polygon points="1037.95,316.32 1041.35,323.46 1034.55,323.46" fill="#080808"/>
<polygon points="1042.6,316.32 1046,323.46 1039.2,323.46" fill="#080808"/>
<polygon points="1047.25,316.32 1050.65,323.46 1043.85,323.46" fill="#080808"/>
<polygon points="1051.9,316.32 1055.3,323.46 1048.5,323.46" fill="#080808"/>
<polygon points="1056.55,316.32 1059.95,323.46 1053.15,323.46" fill="#080808"/>
<polygon points="1061.2,316.32 1064.6,323.46 1057.8,323.46" fill="#080808"/>
<polygon points="1065.85,316.32 1069.25,323.46 1062.45,323.46" fill="#080808"/>
<polygon points="1070.5,316.32 1073.9,323.46 1067.1,323.46" fill="#080808"/>
<polygon points="1075.15,316.32 1078.55,323.46 1071.75,323.46" fill="#080808"/>
<polygon points="1079.8,316.32 1083.2,323.46 1076.4,323.46" fill="#080808"/>
<polygon points="1024,319.12 1027.4,326.26 1020.6,326.26" fill="#080808"/>
<polygon points="1028.65,319.12 1032.05,326.26 1025.25,326.26" fill="#080808"/>
<polygon points="1033.3,319.12 1036.7,326.26 1029.9,326.26" fill="#080808"/>
<polygon points="1037.95,319.12 1041.35,326.26 1034.55,326.26" fill="#080808"/>
<polygon points="1042.6,319.12 1046,326.26 1039.2,326.26" fill="#080808"/>
<polygon points="1047.25,319.12 1050.65,326.26 1043.85,326.26" fill="#080808"/>
<polygon points="1051.9,319.12 1055.3,326.26 1048.5,326.26" fill="#080808"/>
<polygon points="1056.55,319.12 1059.95,326.26 1053.15,326.26" fill="#080808"/>
<polygon points="1061.2,319.12 1064.6,326.26 1057.8,326.26" fill="#080808"/>
<polygon points="1065.85,319.12 1069.25,326.26 1062.45,326.26" fill="#080808"/>
<polygon points="1070.5,319.12 1073.9,326.26 1067.1,326.26" fill="#080808"/>
<polygon points="1075.15,319.12 1078.55,326.26 1071.75,326.26" fill="#080808"/>
<polygon points="1028.65,321.92 1032.05,329.06 1025.25,329.06" fill="#080808"/>
<polygon points="1033.3,321.92 1036.7,329.06 1029.9,329.06" fill="#080808"/>
<polygon points="1037.95,321.92 1041.35,329.06 1034.55,329.06" fill="#080808"/>
<polygon points="1042.6,321.92 1046,329.06 1039.2,329.06" fill="#080808"/>
<polygon points="1047.25,321.92 1050.65,329.06 1043.85,329.06" fill="#080808"/>
<polygon points="1051.9,321.92 1055.3,329.06 1048.5,329.06" fill="#080808"/>
<polygon points="1056.55,321.92 1059.95,329.06 1053.15,329.06" fill="#080808"/>
<polygon points="1061.2,321.92 1064.6,329.06 1057.8,329.06" fill="#080808"/>
<polygon points="1065.85,321.92 1069.25,329.06 1062.45,329.06" fill="#080808"/>
<polygon points="1070.5,321.92 1073.9,329.06 1067.1,329.06" fill="#080808"/>
<polygon points="1075.15,321.92 1078.55,329.06 1071.75,329.06" fill="#080808"/>
<polygon points="1079.8,321.92 1083.2,329.06 1076.4,329.06" fill="#080808"/>
<polygon points="1024,324.72 1027.4,331.86 1020.6,331.86" fill="#080808"/>
<polygon points="1028.65,324.72 1032.05,331.86 1025.25,331.86" fill="#080808"/>
<polygon points="1033.3,324.72 1036.7,331.86 1029.9,331.86" fill="#080808"/>
<polygon points="1037.95,324.72 1041.35,331.86 1034.55,331.86" fill="#080808"/>
<polygon points="1042.6,324.72 1046,331.86 1039.2,331.86" fill="#080808"/>
<polygon points="1047.25,324.72 1050.65,331.86 1043.85,331.86" fill="#080808"/>
<polygon points="1051.9,324.72 1055.3,331.86 1048.5,331.86" fill="#080808"/>
<polygon points="1056.55,324.72 1059.95,331.86 1053.15,331.86" fill="#080808"/>
<polygon points="1061.2,324.72 1064.6,331.86 1057.8,331.86" fill="#080808"/>
<polygon points="1065.85,324.72 1069.25,331.86 1062.45,331.86" fill="#080808"/>
<polygon points="1070.5,324.72 1073.9,331.86 1067.1,331.86" fill="#080808"/>
<polygon points="1075.15,324.72 1078.55,331.86 1071.75,331.86" fill="#080808"/>
<polygon points="1079.8,308.92 1083.2,316.06 1076.4,316.06" fill="#080808"/>
<polygon points="1079.8,317.92 1083.2,325.06 1076.4,325.06" fill="#080808"/>
<polygon points="1005.4,333.72 1008.8,340.86 1002,340.86" fill="#080808"/>
<polygon points="1014.7,333.72 1018.1,340.86 1011.3,340.86" fill="#080808"/>
<polygon points="1024,335.72 1027.4,342.86 1020.6,342.86" fill="#080808"/>
<polygon points="1033.3,336.92 1036.7,344.06 1029.9,344.06" fill="#080808"/>
<polygon points="1042.6,338.62 1046,345.76 1039.2,345.76" fill="#080808"/>
<polygon points="1051.9,339.42 1055.3,346.56 1048.5,346.56" fill="#080808"/>
<polygon points="1061.2,338.62 1064.6,345.76 1057.8,345.76" fill="#080808"/>
<polygon points="1070.5,336.42 1073.9,343.56 1067.1,343.56" fill="#080808"/>
<polygon points="1079.8,335.72 1083.2,342.86 1076.4,342.86" fill="#080808"/>
<polygon points="1089.1,334.22 1092.5,341.36 1085.7,341.36" fill="#080808"/>
<polygon points="1098.4,332.72 1101.8,339.86 1095,339.86" fill="#080808"/>
<polygon points="1010.05,342.42 1013.45,349.56 1006.65,349.56" fill="#080808"/>
<polygon points="1019.35,343.12 1022.75,350.26 1015.95,350.26" fill="#080808"/>
<polygon points="1028.65,343.42 1032.05,350.56 1025.25,350.56" fill="#080808"/>
<polygon points="1037.95,343.92 1041.35,351.06 1034.55,351.06" fill="#080808"/>
<polygon points="1047.25,344.42 1050.65,351.56 1043.85,351.56" fill="#080808"/>
<polygon points="1056.55,344.42 1059.95,351.56 1053.15,351.56" fill="#080808"/>
<polygon points="1065.85,343.92 1069.25,351.06 1062.45,351.06" fill="#080808"/>
<polygon points="1075.15,343.42 1078.55,350.56 1071.75,350.56" fill="#080808"/>
<polygon points="1084.45,342.92 1087.85,350.06 1081.05,350.06" fill="#080808"/>
<polygon points="1093.75,342.42 1097.15,349.56 1090.35,349.56" fill="#080808"/>
<polygon points="1005.4,346.92 1008.8,354.06 1002,354.06" fill="#080808"/>
<polygon points="1014.7,349.92 1018.1,357.06 1011.3,357.06" fill="#080808"/>
<polygon points="1089.1,348.42 1092.5,355.56 1085.7,355.56" fill="#080808"/>
<polygon points="1098.4,346.42 1101.8,353.56 1095,353.56" fill="#080808"/>
<polygon points="1024,351.42 1027.4,358.56 1020.6,358.56" fill="#080808"/>
<polygon points="1033.3,351.42 1036.7,358.56 1029.9,358.56" fill="#080808"/>
<polygon points="1042.6,352.92 1046,360.06 1039.2,360.06" fill="#080808"/>
<polygon points="1051.9,352.92 1055.3,360.06 1048.5,360.06" fill="#080808"/>
<polygon points="1061.2,352.92 1064.6,360.06 1057.8,360.06" fill="#080808"/>
<polygon points="1070.5,351.42 1073.9,358.56 1067.1,358.56" fill="#080808"/>
<polygon points="1079.8,351.42 1083.2,358.56 1076.4,358.56" fill="#080808"/>
<polygon points="1024,360.32 1027.4,367.46 1020.6,367.46" fill="#080808"/>
<polygon points="1033.3,361.92 1036.7,369.06 1029.9,369.06" fill="#080808"/>
<polygon points="1042.6,363.32 1046,370.46 1039.2,370.46" fill="#080808"/>
<polygon points="1051.9,365.62 1055.3,372.76 1048.5,372.76" fill="#080808"/>
<polygon points="1061.2,363.32 1064.6,370.46 1057.8,370.46" fill="#080808"/>
<polygon points="1070.5,361.92 1073.9,369.06 1067.1,369.06" fill="#080808"/>
<polygon points="1079.8,359.62 1083.2,366.76 1076.4,366.76" fill="#080808"/>
<polygon points="1042.6,375.32 1046,382.46 1039.2,382.46" fill="#080808"/>
<polygon points="1051.9,377.52 1055.3,384.66 1048.5,384.66" fill="#080808"/>
<polygon points="1061.2,373.82 1064.6,380.96 1057.8,380.96" fill="#080808"/>
<polygon points="1014.7,378.32 1018.1,385.46 1011.3,385.46" fill="#080808"/>
<polygon points="1024,381.32 1027.4,388.46 1020.6,388.46" fill="#080808"/>
<polygon points="1033.3,381.32 1036.7,388.46 1029.9,388.46" fill="#080808"/>
<polygon points="1042.6,385.32 1046,392.46 1039.2,392.46" fill="#080808"/>
<polygon points="1051.9,388.02 1055.3,395.16 1048.5,395.16" fill="#080808"/>
<polygon points="1061.2,385.02 1064.6,392.16 1057.8,392.16" fill="#080808"/>
<polygon points="1070.5,383.82 1073.9,390.96 1067.1,390.96" fill="#080808"/>
<polygon points="1079.8,381.32 1083.2,388.46 1076.4,388.46" fill="#080808"/>
<polygon points="1089.1,380.12 1092.5,387.26 1085.7,387.26" fill="#080808"/>
<polygon points="1005.4,391.32 1008.8,398.46 1002,398.46" fill="#080808"/>
<polygon points="1014.7,391.72 1018.1,398.86 1011.3,398.86" fill="#080808"/>
<polygon points="1024,396.22 1027.4,403.36 1020.6,403.36" fill="#080808"/>
<polygon points="1033.3,398.52 1036.7,405.66 1029.9,405.66" fill="#080808"/>
<polygon points="1042.6,398.52 1046,405.66 1039.2,405.66" fill="#080808"/>
<polygon points="1051.9,399.22 1055.3,406.36 1048.5,406.36" fill="#080808"/>
<polygon points="1061.2,398.52 1064.6,405.66 1057.8,405.66" fill="#080808"/>
<polygon points="1070.5,398.52 1073.9,405.66 1067.1,405.66" fill="#080808"/>
<polygon points="1079.8,394.02 1083.2,401.16 1076.4,401.16" fill="#080808"/>
<polygon points="1089.1,391.72 1092.5,398.86 1085.7,398.86" fill="#080808"/>
<polygon points="1098.4,390.72 1101.8,397.86 1095,397.86" fill="#080808"/>
<polygon points="1033.3,405.92 1036.7,413.06 1029.9,413.06" fill="#080808"/>
<polygon points="1042.6,405.92 1046,413.06 1039.2,413.06" fill="#080808"/>
<polygon points="1051.9,410.42 1055.3,417.56 1048.5,417.56" fill="#080808"/>
<polygon points="1061.2,408.22 1064.6,415.36 1057.8,415.36" fill="#080808"/>
<polygon points="1070.5,405.92 1073.9,413.06 1067.1,413.06" fill="#080808"/>
</g>
<line x1="687" y1="372" x2="793" y2="372" stroke="#080808" stroke-width="3.5" stroke-linecap="butt"/>
<line x1="712" y1="353" x2="766.8" y2="353" stroke="#080808" stroke-width="4.4" stroke-linecap="butt"/>
<line x1="712" y1="391" x2="766.8" y2="391" stroke="#080808" stroke-width="4.4" stroke-linecap="butt"/>
<line x1="739.4" y1="353" x2="739.4" y2="391" stroke="#080808" stroke-width="3.9" stroke-linecap="butt"/>
<line x1="842.7" y1="338.3" x2="949" y2="338.3" stroke="#080808" stroke-width="3.5" stroke-linecap="butt"/>
<line x1="868" y1="329" x2="924" y2="329" stroke="#080808" stroke-width="4.4" stroke-linecap="butt"/>
<line x1="868" y1="347.5" x2="924" y2="347.5" stroke="#080808" stroke-width="4.4" stroke-linecap="butt"/>
<line x1="896.3" y1="329" x2="896.3" y2="347.5" stroke="#080808" stroke-width="3.9" stroke-linecap="butt"/>
<line x1="998.5" y1="319.1" x2="1105.4" y2="319.1" stroke="#080808" stroke-width="3.5" stroke-linecap="butt"/>
<line x1="1021.6" y1="314.3" x2="1080.7" y2="314.3" stroke="#080808" stroke-width="4.4" stroke-linecap="butt"/>
<line x1="1021.6" y1="324" x2="1080.7" y2="324" stroke="#080808" stroke-width="4.4" stroke-linecap="butt"/>
<line x1="1051.9" y1="314.3" x2="1051.9" y2="324" stroke="#080808" stroke-width="3.9" stroke-linecap="butt"/>
<line x1="719.6" y1="73.6" x2="1062.7" y2="73.6" stroke="#080808" stroke-width="4.6" stroke-linecap="butt"/>
<line x1="719.6" y1="63" x2="719.6" y2="85" stroke="#080808" stroke-width="4" stroke-linecap="round"/>
<line x1="1062.7" y1="63" x2="1062.7" y2="85" stroke="#080808" stroke-width="4" stroke-linecap="round"/>
<text transform="translate(870 40.3) scale(1 1.15)" font-family="'Liberation Sans', Arial, Helvetica, sans-serif" font-size="29.3" font-weight="bold" text-anchor="middle" fill="#0d0d0d" stroke="#0d0d0d" stroke-width="0.4" stroke-linejoin="round" textLength="122" lengthAdjust="spacingAndGlyphs">P=0.048*</text>
<text transform="translate(651 62.5) scale(1 1.08)" font-family="'Liberation Serif', 'Times New Roman', serif" font-size="37" font-weight="bold" text-anchor="start" fill="#050505" stroke="#050505" stroke-width="0.7" stroke-linejoin="round">b</text>
<rect x="829.5" y="91.5" width="78.5" height="52" fill="none" stroke="#080808" stroke-width="4.3"/>
<text transform="translate(868.75 127.5) scale(1 1.18)" font-family="'Liberation Sans', Arial, Helvetica, sans-serif" font-size="30" font-weight="normal" text-anchor="middle" fill="#0d0d0d" textLength="66" lengthAdjust="spacingAndGlyphs">Liver</text>
<text transform="translate(879 528) scale(1 1.16)" font-family="'Liberation Sans', Arial, Helvetica, sans-serif" font-size="24.3" font-weight="bold" text-anchor="middle" fill="#0d0d0d" stroke="#0d0d0d" stroke-width="0.4" stroke-linejoin="round" textLength="187" lengthAdjust="spacingAndGlyphs">TB level (mg/dl)</text>
<text transform="translate(595.5 253.6) rotate(-90)" font-family="'Liberation Sans', Arial, Helvetica, sans-serif" font-size="24.3" font-weight="bold" text-anchor="middle" fill="#0d0d0d" stroke="#0d0d0d" stroke-width="0.4" stroke-linejoin="round" textLength="400.5" lengthAdjust="spacingAndGlyphs">Serum ammonia level (umol/L)</text>
</g>
<g id="panel-c">
<line x1="1282" y1="73.55" x2="1282" y2="424.8" stroke="#000" stroke-width="3" stroke-linecap="butt"/>
<line x1="1272.5" y1="423.3" x2="1770" y2="423.3" stroke="#000" stroke-width="3" stroke-linecap="butt"/>
<line x1="1272.5" y1="74.8" x2="1282" y2="74.8" stroke="#000" stroke-width="2.5" stroke-linecap="butt"/>
<text transform="translate(1269.5 82.94) scale(1 1.16)" font-family="'Liberation Sans', Arial, Helvetica, sans-serif" font-size="22" font-weight="bold" text-anchor="end" fill="#0d0d0d" stroke="#0d0d0d" stroke-width="0.4" stroke-linejoin="round">250</text>
<line x1="1272.5" y1="144.5" x2="1282" y2="144.5" stroke="#000" stroke-width="2.5" stroke-linecap="butt"/>
<text transform="translate(1269.5 152.64) scale(1 1.16)" font-family="'Liberation Sans', Arial, Helvetica, sans-serif" font-size="22" font-weight="bold" text-anchor="end" fill="#0d0d0d" stroke="#0d0d0d" stroke-width="0.4" stroke-linejoin="round">200</text>
<line x1="1272.5" y1="214.2" x2="1282" y2="214.2" stroke="#000" stroke-width="2.5" stroke-linecap="butt"/>
<text transform="translate(1269.5 222.34) scale(1 1.16)" font-family="'Liberation Sans', Arial, Helvetica, sans-serif" font-size="22" font-weight="bold" text-anchor="end" fill="#0d0d0d" stroke="#0d0d0d" stroke-width="0.4" stroke-linejoin="round">150</text>
<line x1="1272.5" y1="283.9" x2="1282" y2="283.9" stroke="#000" stroke-width="2.5" stroke-linecap="butt"/>
<text transform="translate(1269.5 292.04) scale(1 1.16)" font-family="'Liberation Sans', Arial, Helvetica, sans-serif" font-size="22" font-weight="bold" text-anchor="end" fill="#0d0d0d" stroke="#0d0d0d" stroke-width="0.4" stroke-linejoin="round">100</text>
<line x1="1272.5" y1="353.6" x2="1282" y2="353.6" stroke="#000" stroke-width="2.5" stroke-linecap="butt"/>
<text transform="translate(1269.5 361.74) scale(1 1.16)" font-family="'Liberation Sans', Arial, Helvetica, sans-serif" font-size="22" font-weight="bold" text-anchor="end" fill="#0d0d0d" stroke="#0d0d0d" stroke-width="0.4" stroke-linejoin="round">50</text>
<text transform="translate(1269.5 431.44) scale(1 1.16)" font-family="'Liberation Sans', Arial, Helvetica, sans-serif" font-size="22" font-weight="bold" text-anchor="end" fill="#0d0d0d" stroke="#0d0d0d" stroke-width="0.4" stroke-linejoin="round">0</text>
<line x1="1362.7" y1="423.3" x2="1362.7" y2="434.8" stroke="#000" stroke-width="2.5" stroke-linecap="butt"/>
<text transform="translate(1371.2 459.8) scale(1 1.16) rotate(-45)" font-family="'Liberation Sans', Arial, Helvetica, sans-serif" font-size="23.5" font-weight="bold" text-anchor="end" fill="#141414" stroke="#141414" stroke-width="0.1" stroke-linejoin="round">&lt;2</text>
<line x1="1525.3" y1="423.3" x2="1525.3" y2="434.8" stroke="#000" stroke-width="2.5" stroke-linecap="butt"/>
<text transform="translate(1533.8 459.8) scale(1 1.16) rotate(-45)" font-family="'Liberation Sans', Arial, Helvetica, sans-serif" font-size="23.5" font-weight="bold" text-anchor="end" fill="#141414" stroke="#141414" stroke-width="0.1" stroke-linejoin="round">2-2.5</text>
<line x1="1687.2" y1="423.3" x2="1687.2" y2="434.8" stroke="#000" stroke-width="2.5" stroke-linecap="butt"/>
<text transform="translate(1695.7 459.8) scale(1 1.16) rotate(-45)" font-family="'Liberation Sans', Arial, Helvetica, sans-serif" font-size="23.5" font-weight="bold" text-anchor="end" fill="#141414" stroke="#141414" stroke-width="0.1" stroke-linejoin="round"><tspan fill="#9a9a9a" stroke="none" font-weight="normal">≥</tspan><tspan dx="-2.5">2.5</tspan></text>
<g>
<circle cx="1362.3" cy="108.2" r="3.05" fill="#080808"/>
<circle cx="1352.6" cy="169.5" r="3.05" fill="#080808"/>
<circle cx="1362.3" cy="178" r="3.05" fill="#080808"/>
<circle cx="1362.3" cy="199" r="3.05" fill="#080808"/>
<circle cx="1352.6" cy="217" r="3.05" fill="#080808"/>
<circle cx="1362.3" cy="223.8" r="3.05" fill="#080808"/>
<circle cx="1372" cy="230.6" r="3.05" fill="#080808"/>
<circle cx="1362.3" cy="239.4" r="3.05" fill="#080808"/>
<circle cx="1342.9" cy="261.2" r="3.05" fill="#080808"/>
<circle cx="1352.6" cy="261.2" r="3.05" fill="#080808"/>
<circle cx="1372" cy="261.2" r="3.05" fill="#080808"/>
<circle cx="1381.7" cy="260.2" r="3.05" fill="#080808"/>
<circle cx="1362.3" cy="269.4" r="3.05" fill="#080808"/>
<circle cx="1342.9" cy="285.5" r="3.05" fill="#080808"/>
<circle cx="1352.6" cy="287.4" r="3.05" fill="#080808"/>
<circle cx="1352.6" cy="294.1" r="3.05" fill="#080808"/>
<circle cx="1362.3" cy="289.2" r="3.05" fill="#080808"/>
<circle cx="1372" cy="288.1" r="3.05" fill="#080808"/>
<circle cx="1381.7" cy="285.5" r="3.05" fill="#080808"/>
<circle cx="1362.3" cy="300.9" r="3.05" fill="#080808"/>
<circle cx="1342.9" cy="306.1" r="3.05" fill="#080808"/>
<circle cx="1352.6" cy="308.6" r="3.05" fill="#080808"/>
<circle cx="1362.3" cy="312.8" r="3.05" fill="#080808"/>
<circle cx="1372" cy="312.8" r="3.05" fill="#080808"/>
<circle cx="1381.7" cy="306.1" r="3.05" fill="#080808"/>
<circle cx="1381.7" cy="314.6" r="3.05" fill="#080808"/>
<circle cx="1342.9" cy="317.3" r="3.05" fill="#080808"/>
<circle cx="1352.6" cy="321.8" r="3.05" fill="#080808"/>
<circle cx="1362.3" cy="323.3" r="3.05" fill="#080808"/>
<circle cx="1372" cy="320.3" r="3.05" fill="#080808"/>
<circle cx="1347.75" cy="343.5" r="3.05" fill="#080808"/>
<circle cx="1357.45" cy="343.5" r="3.05" fill="#080808"/>
<circle cx="1367.15" cy="343.5" r="3.05" fill="#080808"/>
<circle cx="1352.6" cy="326" r="3.05" fill="#080808"/>
<circle cx="1362.3" cy="326" r="3.05" fill="#080808"/>
<circle cx="1372" cy="325" r="3.05" fill="#080808"/>
<circle cx="1342.9" cy="330" r="3.05" fill="#080808"/>
<circle cx="1352.6" cy="331" r="3.05" fill="#080808"/>
<circle cx="1362.3" cy="330" r="3.05" fill="#080808"/>
<circle cx="1372" cy="330.5" r="3.05" fill="#080808"/>
<circle cx="1381.7" cy="330" r="3.05" fill="#080808"/>
<circle cx="1347.75" cy="336" r="3.05" fill="#080808"/>
<circle cx="1357.45" cy="336.5" r="3.05" fill="#080808"/>
<circle cx="1362.3" cy="337" r="3.05" fill="#080808"/>
<circle cx="1372" cy="336" r="3.05" fill="#080808"/>
<circle cx="1386.55" cy="336" r="3.05" fill="#080808"/>
<circle cx="1338.05" cy="335.5" r="3.05" fill="#080808"/>
<circle cx="1313.8" cy="344" r="3.05" fill="#080808"/>
<circle cx="1323.5" cy="346.5" r="3.05" fill="#080808"/>
<circle cx="1333.2" cy="348" r="3.05" fill="#080808"/>
<circle cx="1342.9" cy="351" r="3.05" fill="#080808"/>
<circle cx="1352.6" cy="352.5" r="3.05" fill="#080808"/>
<circle cx="1362.3" cy="352.5" r="3.05" fill="#080808"/>
<circle cx="1372" cy="352.5" r="3.05" fill="#080808"/>
<circle cx="1381.7" cy="349" r="3.05" fill="#080808"/>
<circle cx="1391.4" cy="346.5" r="3.05" fill="#080808"/>
<circle cx="1401.1" cy="346.5" r="3.05" fill="#080808"/>
<circle cx="1410.8" cy="344" r="3.05" fill="#080808"/>
<circle cx="1333.2" cy="357" r="3.05" fill="#080808"/>
<circle cx="1342.9" cy="361.4" r="3.05" fill="#080808"/>
<circle cx="1352.6" cy="361.4" r="3.05" fill="#080808"/>
<circle cx="1362.3" cy="366" r="3.05" fill="#080808"/>
<circle cx="1372" cy="363.7" r="3.05" fill="#080808"/>
<circle cx="1381.7" cy="361.4" r="3.05" fill="#080808"/>
<circle cx="1391.4" cy="360" r="3.05" fill="#080808"/>
<circle cx="1342.9" cy="370.4" r="3.05" fill="#080808"/>
<circle cx="1352.6" cy="374.2" r="3.05" fill="#080808"/>
<circle cx="1362.3" cy="377.4" r="3.05" fill="#080808"/>
<circle cx="1372" cy="373.4" r="3.05" fill="#080808"/>
<circle cx="1313.8" cy="378.6" r="3.05" fill="#080808"/>
<circle cx="1323.5" cy="381.6" r="3.05" fill="#080808"/>
<circle cx="1333.2" cy="383" r="3.05" fill="#080808"/>
<circle cx="1333.2" cy="390.6" r="3.05" fill="#080808"/>
<circle cx="1342.9" cy="384.2" r="3.05" fill="#080808"/>
<circle cx="1352.6" cy="386.9" r="3.05" fill="#080808"/>
<circle cx="1362.3" cy="388.4" r="3.05" fill="#080808"/>
<circle cx="1372" cy="388.4" r="3.05" fill="#080808"/>
<circle cx="1381.7" cy="385.7" r="3.05" fill="#080808"/>
<circle cx="1391.4" cy="384.6" r="3.05" fill="#080808"/>
<circle cx="1401.1" cy="381.6" r="3.05" fill="#080808"/>
<circle cx="1410.8" cy="381.6" r="3.05" fill="#080808"/>
<circle cx="1342.9" cy="398" r="3.05" fill="#080808"/>
<circle cx="1342.9" cy="404" r="3.05" fill="#080808"/>
<circle cx="1352.6" cy="398" r="3.05" fill="#080808"/>
<circle cx="1352.6" cy="404" r="3.05" fill="#080808"/>
<circle cx="1362.3" cy="399.6" r="3.05" fill="#080808"/>
<circle cx="1372" cy="398" r="3.05" fill="#080808"/>
<circle cx="1372" cy="404" r="3.05" fill="#080808"/>
<circle cx="1381.7" cy="398" r="3.05" fill="#080808"/>
<circle cx="1381.7" cy="404" r="3.05" fill="#080808"/>
<circle cx="1391.4" cy="402.6" r="3.05" fill="#080808"/>
<circle cx="1362.3" cy="410.8" r="3.05" fill="#080808"/>
<circle cx="1372" cy="407" r="3.05" fill="#080808"/>
</g>
<g>
<polygon points="1525.1,177.5 1527.26,180.2 1525.1,182.9 1522.94,180.2" fill="#080808"/>
<polygon points="1525.1,229.2 1527.26,231.9 1525.1,234.6 1522.94,231.9" fill="#080808"/>
<polygon points="1525.1,240.8 1527.26,243.5 1525.1,246.2 1522.94,243.5" fill="#080808"/>
<polygon points="1520.1,250.8 1522.26,253.5 1520.1,256.2 1517.94,253.5" fill="#080808"/>
<polygon points="1530.1,250.8 1532.26,253.5 1530.1,256.2 1527.94,253.5" fill="#080808"/>
<polygon points="1525.1,254.3 1527.26,257 1525.1,259.7 1522.94,257" fill="#080808"/>
<polygon points="1527.6,254.3 1529.76,257 1527.6,259.7 1525.44,257" fill="#080808"/>
<polygon points="1530.1,262.3 1532.26,265 1530.1,267.7 1527.94,265" fill="#080808"/>
<polygon points="1525.1,267.1 1527.26,269.8 1525.1,272.5 1522.94,269.8" fill="#080808"/>
<polygon points="1527.6,267.1 1529.76,269.8 1527.6,272.5 1525.44,269.8" fill="#080808"/>
<polygon points="1520.1,270.1 1522.26,272.8 1520.1,275.5 1517.94,272.8" fill="#080808"/>
<polygon points="1530.1,278.7 1532.26,281.4 1530.1,284.1 1527.94,281.4" fill="#080808"/>
<polygon points="1525.1,281.7 1527.26,284.4 1525.1,287.1 1522.94,284.4" fill="#080808"/>
<polygon points="1520.1,292.6 1522.26,295.3 1520.1,298 1517.94,295.3" fill="#080808"/>
<polygon points="1525.1,294.3 1527.26,297 1525.1,299.7 1522.94,297" fill="#080808"/>
<polygon points="1530.1,294.3 1532.26,297 1530.1,299.7 1527.94,297" fill="#080808"/>
<polygon points="1520.1,298.3 1522.26,301 1520.1,303.7 1517.94,301" fill="#080808"/>
<polygon points="1525.1,298.3 1527.26,301 1525.1,303.7 1522.94,301" fill="#080808"/>
<polygon points="1530.1,298.3 1532.26,301 1530.1,303.7 1527.94,301" fill="#080808"/>
<polygon points="1520.1,303.6 1522.26,306.3 1520.1,309 1517.94,306.3" fill="#080808"/>
<polygon points="1525.1,303.6 1527.26,306.3 1525.1,309 1522.94,306.3" fill="#080808"/>
<polygon points="1525.1,306.3 1527.26,309 1525.1,311.7 1522.94,309" fill="#080808"/>
<polygon points="1520.1,347.3 1522.26,350 1520.1,352.7 1517.94,350" fill="#080808"/>
<polygon points="1525.1,347.3 1527.26,350 1525.1,352.7 1522.94,350" fill="#080808"/>
<polygon points="1525.1,360.1 1527.26,362.8 1525.1,365.5 1522.94,362.8" fill="#080808"/>
<polygon points="1525.1,367.1 1527.26,369.8 1525.1,372.5 1522.94,369.8" fill="#080808"/>
<polygon points="1530.1,372.3 1532.26,375 1530.1,377.7 1527.94,375" fill="#080808"/>
<polygon points="1525.1,377.5 1527.26,380.2 1525.1,382.9 1522.94,380.2" fill="#080808"/>
<polygon points="1520.1,383.3 1522.26,386 1520.1,388.7 1517.94,386" fill="#080808"/>
<polygon points="1525.1,383.3 1527.26,386 1525.1,388.7 1522.94,386" fill="#080808"/>
<polygon points="1515.1,391 1517.26,393.7 1515.1,396.4 1512.94,393.7" fill="#080808"/>
<polygon points="1520.1,391 1522.26,393.7 1520.1,396.4 1517.94,393.7" fill="#080808"/>
<polygon points="1525.1,391 1527.26,393.7 1525.1,396.4 1522.94,393.7" fill="#080808"/>
<polygon points="1530.1,392.6 1532.26,395.3 1530.1,398 1527.94,395.3" fill="#080808"/>
<polygon points="1520.1,396.1 1522.26,398.8 1520.1,401.5 1517.94,398.8" fill="#080808"/>
<polygon points="1525.1,410.1 1527.26,412.8 1525.1,415.5 1522.94,412.8" fill="#080808"/>
<polygon points="1510.1,333.3 1512.26,336 1510.1,338.7 1507.94,336" fill="#080808"/>
<polygon points="1515.1,333.3 1517.26,336 1515.1,338.7 1512.94,336" fill="#080808"/>
<polygon points="1520.1,333.3 1522.26,336 1520.1,338.7 1517.94,336" fill="#080808"/>
<polygon points="1525.1,333.3 1527.26,336 1525.1,338.7 1522.94,336" fill="#080808"/>
<polygon points="1530.1,333.3 1532.26,336 1530.1,338.7 1527.94,336" fill="#080808"/>
<polygon points="1535.1,333.3 1537.26,336 1535.1,338.7 1532.94,336" fill="#080808"/>
<polygon points="1540.1,333.3 1542.26,336 1540.1,338.7 1537.94,336" fill="#080808"/>
<polygon points="1520.1,336.8 1522.26,339.5 1520.1,342.2 1517.94,339.5" fill="#080808"/>
<polygon points="1525.1,336.8 1527.26,339.5 1525.1,342.2 1522.94,339.5" fill="#080808"/>
<polygon points="1530.1,336.8 1532.26,339.5 1530.1,342.2 1527.94,339.5" fill="#080808"/>
<polygon points="1535.1,336.8 1537.26,339.5 1535.1,342.2 1532.94,339.5" fill="#080808"/>
<polygon points="1525.1,340.3 1527.26,343 1525.1,345.7 1522.94,343" fill="#080808"/>
<polygon points="1530.1,340.3 1532.26,343 1530.1,345.7 1527.94,343" fill="#080808"/>
<polygon points="1515.1,317.8 1517.26,320.5 1515.1,323.2 1512.94,320.5" fill="#080808"/>
<polygon points="1525.1,317.8 1527.26,320.5 1525.1,323.2 1522.94,320.5" fill="#080808"/>
<polygon points="1535.1,317.8 1537.26,320.5 1535.1,323.2 1532.94,320.5" fill="#080808"/>
<polygon points="1520.1,325.3 1522.26,328 1520.1,330.7 1517.94,328" fill="#080808"/>
<polygon points="1530.1,325.3 1532.26,328 1530.1,330.7 1527.94,328" fill="#080808"/>
<polygon points="1540.1,325.3 1542.26,328 1540.1,330.7 1537.94,328" fill="#080808"/>
</g>
<g>
<polygon points="1686.7,171.7 1689.95,178.53 1683.45,178.53" fill="#080808"/>
<polygon points="1686.7,189.1 1689.95,195.93 1683.45,195.93" fill="#080808"/>
<polygon points="1696.7,197.3 1699.95,204.12 1693.45,204.12" fill="#080808"/>
<polygon points="1696.7,206.6 1699.95,213.43 1693.45,213.43" fill="#080808"/>
<polygon points="1686.7,206.1 1689.95,212.93 1683.45,212.93" fill="#080808"/>
<polygon points="1676.7,214 1679.95,220.83 1673.45,220.83" fill="#080808"/>
<polygon points="1686.7,215.9 1689.95,222.73 1683.45,222.73" fill="#080808"/>
<polygon points="1696.7,221 1699.95,227.83 1693.45,227.83" fill="#080808"/>
<polygon points="1686.7,231 1689.95,237.83 1683.45,237.83" fill="#080808"/>
<polygon points="1676.7,234.5 1679.95,241.33 1673.45,241.33" fill="#080808"/>
<polygon points="1686.7,244.9 1689.95,251.73 1683.45,251.73" fill="#080808"/>
<polygon points="1666.7,254.1 1669.95,260.93 1663.45,260.93" fill="#080808"/>
<polygon points="1706.7,254.1 1709.95,260.93 1703.45,260.93" fill="#080808"/>
<polygon points="1676.7,259.4 1679.95,266.23 1673.45,266.23" fill="#080808"/>
<polygon points="1686.7,259.4 1689.95,266.23 1683.45,266.23" fill="#080808"/>
<polygon points="1696.7,259.4 1699.95,266.23 1693.45,266.23" fill="#080808"/>
<polygon points="1666.7,265.9 1669.95,272.73 1663.45,272.73" fill="#080808"/>
<polygon points="1696.7,265.9 1699.95,272.73 1693.45,272.73" fill="#080808"/>
<polygon points="1676.7,268.1 1679.95,274.93 1673.45,274.93" fill="#080808"/>
<polygon points="1676.7,281 1679.95,287.82 1673.45,287.82" fill="#080808"/>
<polygon points="1696.7,281 1699.95,287.82 1693.45,287.82" fill="#080808"/>
<polygon points="1676.7,287.1 1679.95,293.93 1673.45,293.93" fill="#080808"/>
<polygon points="1696.7,289.1 1699.95,295.93 1693.45,295.93" fill="#080808"/>
<polygon points="1686.7,280.1 1689.95,286.93 1683.45,286.93" fill="#080808"/>
<polygon points="1696.7,298.4 1699.95,305.23 1693.45,305.23" fill="#080808"/>
<polygon points="1676.7,306.6 1679.95,313.43 1673.45,313.43" fill="#080808"/>
<polygon points="1676.7,311.1 1679.95,317.93 1673.45,317.93" fill="#080808"/>
<polygon points="1686.7,308.4 1689.95,315.23 1683.45,315.23" fill="#080808"/>
<polygon points="1696.7,313.1 1699.95,319.93 1693.45,319.93" fill="#080808"/>
<polygon points="1686.7,319.4 1689.95,326.23 1683.45,326.23" fill="#080808"/>
<polygon points="1696.7,328 1699.95,334.82 1693.45,334.82" fill="#080808"/>
<polygon points="1676.7,331 1679.95,337.82 1673.45,337.82" fill="#080808"/>
<polygon points="1686.7,333.3 1689.95,340.12 1683.45,340.12" fill="#080808"/>
<polygon points="1676.7,339.1 1679.95,345.93 1673.45,345.93" fill="#080808"/>
<polygon points="1696.7,340.3 1699.95,347.12 1693.45,347.12" fill="#080808"/>
<polygon points="1706.7,338.7 1709.95,345.53 1703.45,345.53" fill="#080808"/>
<polygon points="1686.7,348 1689.95,354.82 1683.45,354.82" fill="#080808"/>
<polygon points="1676.7,355.9 1679.95,362.73 1673.45,362.73" fill="#080808"/>
<polygon points="1686.7,360.1 1689.95,366.93 1683.45,366.93" fill="#080808"/>
<polygon points="1686.7,377 1689.95,383.82 1683.45,383.82" fill="#080808"/>
<polygon points="1676.7,388 1679.95,394.82 1673.45,394.82" fill="#080808"/>
<polygon points="1686.7,389.8 1689.95,396.62 1683.45,396.62" fill="#080808"/>
<polygon points="1686.7,404.7 1689.95,411.53 1683.45,411.53" fill="#080808"/>
</g>
<line x1="1307.3" y1="332.7" x2="1417.7" y2="332.7" stroke="#080808" stroke-width="3.5" stroke-linecap="butt"/>
<line x1="1333.9" y1="325.5" x2="1390.7" y2="325.5" stroke="#080808" stroke-width="4.4" stroke-linecap="butt"/>
<line x1="1333.9" y1="339.8" x2="1390.7" y2="339.8" stroke="#080808" stroke-width="4.4" stroke-linecap="butt"/>
<line x1="1362.3" y1="325.5" x2="1362.3" y2="339.8" stroke="#080808" stroke-width="3.9" stroke-linecap="butt"/>
<line x1="1497" y1="320.3" x2="1553" y2="320.3" stroke="#5a5a5a" stroke-width="2.6" stroke-linecap="butt"/>
<line x1="1497" y1="328" x2="1553" y2="328" stroke="#5a5a5a" stroke-width="2.6" stroke-linecap="butt"/>
<line x1="1469.3" y1="324" x2="1579.8" y2="324" stroke="#080808" stroke-width="3.5" stroke-linecap="butt"/>
<line x1="1496" y1="316.3" x2="1554.2" y2="316.3" stroke="#080808" stroke-width="4.4" stroke-linecap="butt"/>
<line x1="1496" y1="331.9" x2="1554.2" y2="331.9" stroke="#080808" stroke-width="4.4" stroke-linecap="butt"/>
<line x1="1525.1" y1="316.3" x2="1525.1" y2="331.9" stroke="#080808" stroke-width="3.9" stroke-linecap="butt"/>
<line x1="1631.6" y1="289" x2="1742" y2="289" stroke="#080808" stroke-width="3.5" stroke-linecap="butt"/>
<line x1="1658.4" y1="279.8" x2="1715.3" y2="279.8" stroke="#080808" stroke-width="4.4" stroke-linecap="butt"/>
<line x1="1658.4" y1="298.8" x2="1715.3" y2="298.8" stroke="#080808" stroke-width="4.4" stroke-linecap="butt"/>
<line x1="1686.7" y1="279.8" x2="1686.7" y2="298.8" stroke="#080808" stroke-width="3.9" stroke-linecap="butt"/>
<line x1="1361" y1="66.5" x2="1717.6" y2="66.5" stroke="#080808" stroke-width="4.6" stroke-linecap="butt"/>
<line x1="1361" y1="56" x2="1361" y2="77" stroke="#080808" stroke-width="4" stroke-linecap="round"/>
<line x1="1717.6" y1="56" x2="1717.6" y2="77" stroke="#080808" stroke-width="4" stroke-linecap="round"/>
<text transform="translate(1532 32.5) scale(1 1.15)" font-family="'Liberation Sans', Arial, Helvetica, sans-serif" font-size="29.3" font-weight="bold" text-anchor="middle" fill="#0d0d0d" stroke="#0d0d0d" stroke-width="0.4" stroke-linejoin="round" textLength="151" lengthAdjust="spacingAndGlyphs">P&lt;0.001***</text>
<text transform="translate(1251 37) scale(1 1.17)" font-family="'Liberation Serif', 'Times New Roman', serif" font-size="37" font-weight="bold" text-anchor="start" fill="#050505" stroke="#050505" stroke-width="0.7" stroke-linejoin="round">c</text>
<rect x="1450.5" y="78.5" width="177" height="53" fill="none" stroke="#080808" stroke-width="4.3"/>
<text transform="translate(1539 116) scale(1 1.18)" font-family="'Liberation Sans', Arial, Helvetica, sans-serif" font-size="30" font-weight="normal" text-anchor="middle" fill="#0d0d0d" textLength="163" lengthAdjust="spacingAndGlyphs">Coagulation</text>
<text transform="translate(1503 536) scale(1 1.16)" font-family="'Liberation Sans', Arial, Helvetica, sans-serif" font-size="24.3" font-weight="bold" text-anchor="middle" fill="#0d0d0d" stroke="#0d0d0d" stroke-width="0.4" stroke-linejoin="round" textLength="111" lengthAdjust="spacingAndGlyphs">INR level</text>
<text transform="translate(1213 248) rotate(-90)" font-family="'Liberation Sans', Arial, Helvetica, sans-serif" font-size="24.3" font-weight="bold" text-anchor="middle" fill="#0d0d0d" stroke="#0d0d0d" stroke-width="0.4" stroke-linejoin="round" textLength="410" lengthAdjust="spacingAndGlyphs">Serum ammonia level (umol/L)</text>
</g>
<g id="panel-d">
<line x1="114.7" y1="718.95" x2="114.7" y2="1078.1" stroke="#000" stroke-width="3" stroke-linecap="butt"/>
<line x1="105.2" y1="1076.6" x2="533.5" y2="1076.6" stroke="#000" stroke-width="3" stroke-linecap="butt"/>
<line x1="105.2" y1="720.2" x2="114.7" y2="720.2" stroke="#000" stroke-width="2.5" stroke-linecap="butt"/>
<text transform="translate(103 728.48) scale(1 1.3)" font-family="'Liberation Sans', Arial, Helvetica, sans-serif" font-size="19.5" font-weight="bold" text-anchor="end" fill="#0d0d0d" stroke="#0d0d0d" stroke-width="0.4" stroke-linejoin="round">250</text>
<line x1="105.2" y1="791.48" x2="114.7" y2="791.48" stroke="#000" stroke-width="2.5" stroke-linecap="butt"/>
<text transform="translate(103 799.76) scale(1 1.3)" font-family="'Liberation Sans', Arial, Helvetica, sans-serif" font-size="19.5" font-weight="bold" text-anchor="end" fill="#0d0d0d" stroke="#0d0d0d" stroke-width="0.4" stroke-linejoin="round">200</text>
<line x1="105.2" y1="862.76" x2="114.7" y2="862.76" stroke="#000" stroke-width="2.5" stroke-linecap="butt"/>
<text transform="translate(103 871.04) scale(1 1.3)" font-family="'Liberation Sans', Arial, Helvetica, sans-serif" font-size="19.5" font-weight="bold" text-anchor="end" fill="#0d0d0d" stroke="#0d0d0d" stroke-width="0.4" stroke-linejoin="round">150</text>
<line x1="105.2" y1="934.04" x2="114.7" y2="934.04" stroke="#000" stroke-width="2.5" stroke-linecap="butt"/>
<text transform="translate(103 942.32) scale(1 1.3)" font-family="'Liberation Sans', Arial, Helvetica, sans-serif" font-size="19.5" font-weight="bold" text-anchor="end" fill="#0d0d0d" stroke="#0d0d0d" stroke-width="0.4" stroke-linejoin="round">100</text>
<line x1="105.2" y1="1005.32" x2="114.7" y2="1005.32" stroke="#000" stroke-width="2.5" stroke-linecap="butt"/>
<text transform="translate(103 1013.6) scale(1 1.3)" font-family="'Liberation Sans', Arial, Helvetica, sans-serif" font-size="19.5" font-weight="bold" text-anchor="end" fill="#0d0d0d" stroke="#0d0d0d" stroke-width="0.4" stroke-linejoin="round">50</text>
<text transform="translate(103 1084.88) scale(1 1.3)" font-family="'Liberation Sans', Arial, Helvetica, sans-serif" font-size="19.5" font-weight="bold" text-anchor="end" fill="#0d0d0d" stroke="#0d0d0d" stroke-width="0.4" stroke-linejoin="round">0</text>
<line x1="156.2" y1="1076.6" x2="156.2" y2="1088.1" stroke="#000" stroke-width="2.5" stroke-linecap="butt"/>
<text transform="translate(162.2 1113.1) scale(1 1.3) rotate(-45)" font-family="'Liberation Sans', Arial, Helvetica, sans-serif" font-size="19" font-weight="bold" text-anchor="end" fill="#141414" stroke="#141414" stroke-width="0.5" stroke-linejoin="round">0</text>
<line x1="240" y1="1076.6" x2="240" y2="1088.1" stroke="#000" stroke-width="2.5" stroke-linecap="butt"/>
<text transform="translate(246 1113.1) scale(1 1.3) rotate(-45)" font-family="'Liberation Sans', Arial, Helvetica, sans-serif" font-size="19" font-weight="bold" text-anchor="end" fill="#141414" stroke="#141414" stroke-width="0.5" stroke-linejoin="round">1</text>
<line x1="323.4" y1="1076.6" x2="323.4" y2="1088.1" stroke="#000" stroke-width="2.5" stroke-linecap="butt"/>
<text transform="translate(329.4 1113.1) scale(1 1.3) rotate(-45)" font-family="'Liberation Sans', Arial, Helvetica, sans-serif" font-size="19" font-weight="bold" text-anchor="end" fill="#141414" stroke="#141414" stroke-width="0.5" stroke-linejoin="round">2</text>
<line x1="407" y1="1076.6" x2="407" y2="1088.1" stroke="#000" stroke-width="2.5" stroke-linecap="butt"/>
<text transform="translate(413 1113.1) scale(1 1.3) rotate(-45)" font-family="'Liberation Sans', Arial, Helvetica, sans-serif" font-size="19" font-weight="bold" text-anchor="end" fill="#141414" stroke="#141414" stroke-width="0.5" stroke-linejoin="round">3</text>
<line x1="490.5" y1="1076.6" x2="490.5" y2="1088.1" stroke="#000" stroke-width="2.5" stroke-linecap="butt"/>
<text transform="translate(496.5 1113.1) scale(1 1.3) rotate(-45)" font-family="'Liberation Sans', Arial, Helvetica, sans-serif" font-size="19" font-weight="bold" text-anchor="end" fill="#141414" stroke="#141414" stroke-width="0.5" stroke-linejoin="round">4</text>
<g>
<circle cx="156.3" cy="823.4" r="2.65" fill="#080808"/>
<circle cx="156.3" cy="872.3" r="2.65" fill="#080808"/>
<circle cx="147.9" cy="881.2" r="2.65" fill="#080808"/>
<circle cx="156.3" cy="888.7" r="2.65" fill="#080808"/>
<circle cx="147.9" cy="904" r="2.65" fill="#080808"/>
<circle cx="156.3" cy="911.3" r="2.65" fill="#080808"/>
<circle cx="164.7" cy="909.6" r="2.65" fill="#080808"/>
<circle cx="173.1" cy="912.5" r="2.65" fill="#080808"/>
<circle cx="139.5" cy="918" r="2.65" fill="#080808"/>
<circle cx="147.9" cy="922.9" r="2.65" fill="#080808"/>
<circle cx="156.3" cy="922.9" r="2.65" fill="#080808"/>
<circle cx="164.7" cy="919.8" r="2.65" fill="#080808"/>
<circle cx="181.5" cy="931.3" r="2.65" fill="#080808"/>
<circle cx="173.1" cy="935.4" r="2.65" fill="#080808"/>
<circle cx="139.5" cy="935.4" r="2.65" fill="#080808"/>
<circle cx="147.9" cy="936.9" r="2.65" fill="#080808"/>
<circle cx="156.3" cy="938.6" r="2.65" fill="#080808"/>
<circle cx="164.7" cy="938.6" r="2.65" fill="#080808"/>
<circle cx="139.5" cy="945.3" r="2.65" fill="#080808"/>
<circle cx="147.9" cy="946.5" r="2.65" fill="#080808"/>
<circle cx="164.7" cy="945.3" r="2.65" fill="#080808"/>
<circle cx="156.3" cy="951.3" r="2.65" fill="#080808"/>
<circle cx="147.9" cy="957.8" r="2.65" fill="#080808"/>
<circle cx="164.7" cy="957.8" r="2.65" fill="#080808"/>
<circle cx="156.3" cy="964.6" r="2.65" fill="#080808"/>
<circle cx="131.1" cy="965.5" r="2.65" fill="#080808"/>
<circle cx="139.5" cy="974" r="2.65" fill="#080808"/>
<circle cx="147.9" cy="975.8" r="2.65" fill="#080808"/>
<circle cx="156.3" cy="975.2" r="2.65" fill="#080808"/>
<circle cx="160.5" cy="979" r="2.65" fill="#080808"/>
<circle cx="164.7" cy="973.2" r="2.65" fill="#080808"/>
<circle cx="173.1" cy="972.5" r="2.65" fill="#080808"/>
<circle cx="131.1" cy="983" r="2.65" fill="#080808"/>
<circle cx="139.5" cy="984" r="2.65" fill="#080808"/>
<circle cx="173.1" cy="984" r="2.65" fill="#080808"/>
<circle cx="181.5" cy="983" r="2.65" fill="#080808"/>
<circle cx="147.9" cy="986.4" r="2.65" fill="#080808"/>
<circle cx="164.7" cy="986.4" r="2.65" fill="#080808"/>
<circle cx="141.6" cy="988" r="2.65" fill="#080808"/>
<circle cx="145.8" cy="988" r="2.65" fill="#080808"/>
<circle cx="150" cy="988" r="2.65" fill="#080808"/>
<circle cx="154.2" cy="988" r="2.65" fill="#080808"/>
<circle cx="158.4" cy="988" r="2.65" fill="#080808"/>
<circle cx="162.6" cy="988" r="2.65" fill="#080808"/>
<circle cx="166.8" cy="988" r="2.65" fill="#080808"/>
<circle cx="145.8" cy="990.5" r="2.65" fill="#080808"/>
<circle cx="150" cy="990.5" r="2.65" fill="#080808"/>
<circle cx="154.2" cy="990.5" r="2.65" fill="#080808"/>
<circle cx="158.4" cy="990.5" r="2.65" fill="#080808"/>
<circle cx="162.6" cy="990.5" r="2.65" fill="#080808"/>
<circle cx="166.8" cy="990.5" r="2.65" fill="#080808"/>
<circle cx="171" cy="990.5" r="2.65" fill="#080808"/>
<circle cx="141.6" cy="993" r="2.65" fill="#080808"/>
<circle cx="145.8" cy="993" r="2.65" fill="#080808"/>
<circle cx="150" cy="993" r="2.65" fill="#080808"/>
<circle cx="154.2" cy="993" r="2.65" fill="#080808"/>
<circle cx="158.4" cy="993" r="2.65" fill="#080808"/>
<circle cx="162.6" cy="993" r="2.65" fill="#080808"/>
<circle cx="166.8" cy="993" r="2.65" fill="#080808"/>
<circle cx="145.8" cy="995.5" r="2.65" fill="#080808"/>
<circle cx="150" cy="995.5" r="2.65" fill="#080808"/>
<circle cx="154.2" cy="995.5" r="2.65" fill="#080808"/>
<circle cx="158.4" cy="995.5" r="2.65" fill="#080808"/>
<circle cx="162.6" cy="995.5" r="2.65" fill="#080808"/>
<circle cx="166.8" cy="995.5" r="2.65" fill="#080808"/>
<circle cx="171" cy="995.5" r="2.65" fill="#080808"/>
<circle cx="141.6" cy="998" r="2.65" fill="#080808"/>
<circle cx="145.8" cy="998" r="2.65" fill="#080808"/>
<circle cx="150" cy="998" r="2.65" fill="#080808"/>
<circle cx="154.2" cy="998" r="2.65" fill="#080808"/>
<circle cx="158.4" cy="998" r="2.65" fill="#080808"/>
<circle cx="162.6" cy="998" r="2.65" fill="#080808"/>
<circle cx="166.8" cy="998" r="2.65" fill="#080808"/>
<circle cx="145.8" cy="1000.5" r="2.65" fill="#080808"/>
<circle cx="150" cy="1000.5" r="2.65" fill="#080808"/>
<circle cx="154.2" cy="1000.5" r="2.65" fill="#080808"/>
<circle cx="158.4" cy="1000.5" r="2.65" fill="#080808"/>
<circle cx="162.6" cy="1000.5" r="2.65" fill="#080808"/>
<circle cx="166.8" cy="1000.5" r="2.65" fill="#080808"/>
<circle cx="171" cy="1000.5" r="2.65" fill="#080808"/>
<circle cx="136.14" cy="993.5" r="2.65" fill="#080808"/>
<circle cx="177.3" cy="993.5" r="2.65" fill="#080808"/>
<circle cx="183.18" cy="995" r="2.65" fill="#080808"/>
<circle cx="130.26" cy="994" r="2.65" fill="#080808"/>
<circle cx="131.1" cy="1001.4" r="2.65" fill="#080808"/>
<circle cx="139.5" cy="1002.9" r="2.65" fill="#080808"/>
<circle cx="147.9" cy="1004" r="2.65" fill="#080808"/>
<circle cx="156.3" cy="1004" r="2.65" fill="#080808"/>
<circle cx="164.7" cy="1003" r="2.65" fill="#080808"/>
<circle cx="173.1" cy="1002" r="2.65" fill="#080808"/>
<circle cx="181.5" cy="1000.5" r="2.65" fill="#080808"/>
<circle cx="131.1" cy="1011.4" r="2.65" fill="#080808"/>
<circle cx="139.5" cy="1013.9" r="2.65" fill="#080808"/>
<circle cx="147.9" cy="1015.4" r="2.65" fill="#080808"/>
<circle cx="156.3" cy="1017.9" r="2.65" fill="#080808"/>
<circle cx="160.5" cy="1010" r="2.65" fill="#080808"/>
<circle cx="164.7" cy="1014.9" r="2.65" fill="#080808"/>
<circle cx="173.1" cy="1013.9" r="2.65" fill="#080808"/>
<circle cx="181.5" cy="1013.9" r="2.65" fill="#080808"/>
<circle cx="131.1" cy="1022.4" r="2.65" fill="#080808"/>
<circle cx="139.5" cy="1025.4" r="2.65" fill="#080808"/>
<circle cx="147.9" cy="1027.9" r="2.65" fill="#080808"/>
<circle cx="156.3" cy="1028.9" r="2.65" fill="#080808"/>
<circle cx="164.7" cy="1025.9" r="2.65" fill="#080808"/>
<circle cx="173.1" cy="1021.9" r="2.65" fill="#080808"/>
<circle cx="131.1" cy="1036.8" r="2.65" fill="#080808"/>
<circle cx="139.5" cy="1036.3" r="2.65" fill="#080808"/>
<circle cx="143.7" cy="1032.9" r="2.65" fill="#080808"/>
<circle cx="147.9" cy="1039.8" r="2.65" fill="#080808"/>
<circle cx="152.1" cy="1034.4" r="2.65" fill="#080808"/>
<circle cx="156.3" cy="1039.8" r="2.65" fill="#080808"/>
<circle cx="160.5" cy="1034.4" r="2.65" fill="#080808"/>
<circle cx="164.7" cy="1039.8" r="2.65" fill="#080808"/>
<circle cx="168.9" cy="1032.9" r="2.65" fill="#080808"/>
<circle cx="173.1" cy="1037.8" r="2.65" fill="#080808"/>
<circle cx="177.3" cy="1030.4" r="2.65" fill="#080808"/>
<circle cx="181.5" cy="1036.8" r="2.65" fill="#080808"/>
<circle cx="143.7" cy="1043.8" r="2.65" fill="#080808"/>
<circle cx="152.1" cy="1044.8" r="2.65" fill="#080808"/>
<circle cx="131.1" cy="1048.8" r="2.65" fill="#080808"/>
<circle cx="139.5" cy="1050.3" r="2.65" fill="#080808"/>
<circle cx="147.9" cy="1050.8" r="2.65" fill="#080808"/>
<circle cx="156.3" cy="1051.8" r="2.65" fill="#080808"/>
<circle cx="160.5" cy="1053.8" r="2.65" fill="#080808"/>
<circle cx="164.7" cy="1050.3" r="2.65" fill="#080808"/>
<circle cx="173.1" cy="1050.3" r="2.65" fill="#080808"/>
<circle cx="181.5" cy="1047.8" r="2.65" fill="#080808"/>
<circle cx="131.1" cy="1056.8" r="2.65" fill="#080808"/>
<circle cx="139.5" cy="1058.3" r="2.65" fill="#080808"/>
<circle cx="147.9" cy="1061.3" r="2.65" fill="#080808"/>
<circle cx="156.3" cy="1065.3" r="2.65" fill="#080808"/>
<circle cx="164.7" cy="1063.8" r="2.65" fill="#080808"/>
<circle cx="173.1" cy="1059.8" r="2.65" fill="#080808"/>
<circle cx="181.5" cy="1058.3" r="2.65" fill="#080808"/>
</g>
<g>
<rect x="236.6" y="825.9" width="6" height="6" fill="#080808"/>
<rect x="245.5" y="838" width="6" height="6" fill="#080808"/>
<rect x="236.6" y="845.2" width="6" height="6" fill="#080808"/>
<rect x="236.6" y="889.8" width="6" height="6" fill="#080808"/>
<rect x="245.5" y="903.5" width="6" height="6" fill="#080808"/>
<rect x="236.6" y="908.6" width="6" height="6" fill="#080808"/>
<rect x="236.6" y="937.2" width="6" height="6" fill="#080808"/>
<rect x="218.8" y="954.8" width="6" height="6" fill="#080808"/>
<rect x="227.7" y="954.8" width="6" height="6" fill="#080808"/>
<rect x="236.6" y="954.8" width="6" height="6" fill="#080808"/>
<rect x="245.5" y="954.8" width="6" height="6" fill="#080808"/>
<rect x="254.4" y="961.6" width="6" height="6" fill="#080808"/>
<rect x="227.7" y="963.3" width="6" height="6" fill="#080808"/>
<rect x="236.6" y="963.3" width="6" height="6" fill="#080808"/>
<rect x="245.5" y="963.3" width="6" height="6" fill="#080808"/>
<rect x="236.6" y="974.1" width="6" height="6" fill="#080808"/>
<rect x="218.8" y="981.3" width="6" height="6" fill="#080808"/>
<rect x="227.7" y="985" width="6" height="6" fill="#080808"/>
<rect x="227.7" y="992.2" width="6" height="6" fill="#080808"/>
<rect x="236.6" y="987.4" width="6" height="6" fill="#080808"/>
<rect x="245.5" y="985" width="6" height="6" fill="#080808"/>
<rect x="254.4" y="991" width="6" height="6" fill="#080808"/>
<rect x="236.6" y="1001.8" width="6" height="6" fill="#080808"/>
<rect x="245.5" y="1000.1" width="6" height="6" fill="#080808"/>
<rect x="227.7" y="1029.5" width="6" height="6" fill="#080808"/>
<rect x="236.6" y="1036.8" width="6" height="6" fill="#080808"/>
<rect x="245.5" y="1044" width="6" height="6" fill="#080808"/>
<rect x="236.6" y="1048.8" width="6" height="6" fill="#080808"/>
</g>
<g>
<polygon points="323.6,752.4 326.6,758.7 320.6,758.7" fill="#080808"/>
<polygon points="332.3,862.4 335.3,868.7 329.3,868.7" fill="#080808"/>
<polygon points="323.6,870.2 326.6,876.5 320.6,876.5" fill="#080808"/>
<polygon points="323.6,884.7 326.6,891 320.6,891" fill="#080808"/>
<polygon points="332.3,908 335.3,914.3 329.3,914.3" fill="#080808"/>
<polygon points="323.6,910.9 326.6,917.2 320.6,917.2" fill="#080808"/>
<polygon points="332.3,945.2 335.3,951.5 329.3,951.5" fill="#080808"/>
<polygon points="314.9,950.2 317.9,956.5 311.9,956.5" fill="#080808"/>
<polygon points="323.6,954.4 326.6,960.7 320.6,960.7" fill="#080808"/>
<polygon points="323.6,986 326.6,992.3 320.6,992.3" fill="#080808"/>
<polygon points="332.3,983.6 335.3,989.9 329.3,989.9" fill="#080808"/>
<polygon points="323.6,1005.4 326.6,1011.7 320.6,1011.7" fill="#080808"/>
<polygon points="332.3,1034.4 335.3,1040.7 329.3,1040.7" fill="#080808"/>
<polygon points="323.6,1041.2 326.6,1047.5 320.6,1047.5" fill="#080808"/>
</g>
<g>
<polygon points="407.1,821.72 410.2,815.21 404,815.21" fill="#3c3c3c"/>
<polygon points="407.1,854.22 410.2,847.71 404,847.71" fill="#3c3c3c"/>
<polygon points="398.4,862.42 401.5,855.91 395.3,855.91" fill="#3c3c3c"/>
<polygon points="407.1,869.72 410.2,863.21 404,863.21" fill="#3c3c3c"/>
<polygon points="415.8,884.72 418.9,878.21 412.7,878.21" fill="#3c3c3c"/>
<polygon points="407.1,886.72 410.2,880.21 404,880.21" fill="#3c3c3c"/>
<polygon points="407.1,902.22 410.2,895.71 404,895.71" fill="#3c3c3c"/>
<polygon points="398.4,912.42 401.5,905.91 395.3,905.91" fill="#3c3c3c"/>
<polygon points="407.1,912.42 410.2,905.91 404,905.91" fill="#3c3c3c"/>
<polygon points="415.8,915.32 418.9,908.81 412.7,908.81" fill="#3c3c3c"/>
<polygon points="407.1,939.22 410.2,932.71 404,932.71" fill="#3c3c3c"/>
<polygon points="407.1,952.52 410.2,946.01 404,946.01" fill="#3c3c3c"/>
<polygon points="398.4,967.12 401.5,960.61 395.3,960.61" fill="#3c3c3c"/>
<polygon points="407.1,971.22 410.2,964.71 404,964.71" fill="#3c3c3c"/>
<polygon points="398.4,988.72 401.5,982.21 395.3,982.21" fill="#3c3c3c"/>
<polygon points="415.8,990.42 418.9,983.91 412.7,983.91" fill="#3c3c3c"/>
<polygon points="407.1,996.22 410.2,989.71 404,989.71" fill="#3c3c3c"/>
</g>
<g>
<circle cx="490.9" cy="826.4" r="4.35" fill="#080808"/>
<circle cx="490.9" cy="857.8" r="4.35" fill="#080808"/>
<circle cx="490.9" cy="868" r="4.35" fill="#080808"/>
<circle cx="490.9" cy="916" r="4.35" fill="#080808"/>
<circle cx="498.7" cy="916" r="4.35" fill="#080808"/>
<circle cx="494.8" cy="921.8" r="4.35" fill="#080808"/>
<circle cx="490.9" cy="936.3" r="4.35" fill="#080808"/>
<circle cx="490.9" cy="1014.9" r="4.35" fill="#080808"/>
</g>
<line x1="126.9" y1="994.2" x2="185.2" y2="994.2" stroke="#080808" stroke-width="3.5" stroke-linecap="butt"/>
<line x1="140" y1="990.5" x2="172" y2="990.5" stroke="#080808" stroke-width="4.4" stroke-linecap="butt"/>
<line x1="140" y1="998" x2="172" y2="998" stroke="#080808" stroke-width="4.4" stroke-linecap="butt"/>
<line x1="156.3" y1="990.5" x2="156.3" y2="998" stroke="#080808" stroke-width="3.9" stroke-linecap="butt"/>
<line x1="211.2" y1="963.1" x2="269" y2="963.1" stroke="#080808" stroke-width="3.5" stroke-linecap="butt"/>
<line x1="223.3" y1="951.8" x2="255.3" y2="951.8" stroke="#080808" stroke-width="4.4" stroke-linecap="butt"/>
<line x1="223.3" y1="973.5" x2="255.3" y2="973.5" stroke="#080808" stroke-width="4.4" stroke-linecap="butt"/>
<line x1="239.6" y1="951.8" x2="239.6" y2="973.5" stroke="#080808" stroke-width="3.9" stroke-linecap="butt"/>
<line x1="295.1" y1="937.8" x2="352.1" y2="937.8" stroke="#080808" stroke-width="3.5" stroke-linecap="butt"/>
<line x1="307.6" y1="919.5" x2="339.6" y2="919.5" stroke="#080808" stroke-width="4.4" stroke-linecap="butt"/>
<line x1="307.6" y1="955.8" x2="339.6" y2="955.8" stroke="#080808" stroke-width="4.4" stroke-linecap="butt"/>
<line x1="323.6" y1="919.5" x2="323.6" y2="955.8" stroke="#080808" stroke-width="3.9" stroke-linecap="butt"/>
<line x1="378" y1="915" x2="437" y2="915" stroke="#080808" stroke-width="3.5" stroke-linecap="butt"/>
<line x1="392" y1="903.5" x2="422.5" y2="903.5" stroke="#080808" stroke-width="4.4" stroke-linecap="butt"/>
<line x1="392" y1="926.2" x2="422.5" y2="926.2" stroke="#080808" stroke-width="4.4" stroke-linecap="butt"/>
<line x1="407.1" y1="903.5" x2="407.1" y2="926.2" stroke="#080808" stroke-width="3.9" stroke-linecap="butt"/>
<line x1="461.8" y1="905.8" x2="520" y2="905.8" stroke="#080808" stroke-width="3.5" stroke-linecap="butt"/>
<line x1="474.9" y1="884.9" x2="506.9" y2="884.9" stroke="#080808" stroke-width="4.4" stroke-linecap="butt"/>
<line x1="474.9" y1="926.2" x2="506.9" y2="926.2" stroke="#080808" stroke-width="4.4" stroke-linecap="butt"/>
<line x1="490.9" y1="884.9" x2="490.9" y2="926.2" stroke="#080808" stroke-width="3.9" stroke-linecap="butt"/>
<line x1="147" y1="694.3" x2="507" y2="694.3" stroke="#080808" stroke-width="4.6" stroke-linecap="butt"/>
<line x1="147" y1="684" x2="147" y2="705" stroke="#080808" stroke-width="4" stroke-linecap="round"/>
<line x1="507" y1="684" x2="507" y2="705" stroke="#080808" stroke-width="4" stroke-linecap="round"/>
<text transform="translate(301 677.5) scale(1 1.14)" font-family="'Liberation Sans', Arial, Helvetica, sans-serif" font-size="29.3" font-weight="bold" text-anchor="middle" fill="#0d0d0d" stroke="#0d0d0d" stroke-width="0.4" stroke-linejoin="round" textLength="132" lengthAdjust="spacingAndGlyphs">P&lt;0.001***</text>
<text transform="translate(45.5 673) scale(1 0.84)" font-family="'Liberation Serif', 'Times New Roman', serif" font-size="37" font-weight="bold" text-anchor="start" fill="#050505" stroke="#050505" stroke-width="0.7" stroke-linejoin="round">d</text>
<rect x="204" y="703.5" width="71.5" height="54" fill="none" stroke="#080808" stroke-width="4.3"/>
<text transform="translate(239.75 741.5) scale(1 1.18)" font-family="'Liberation Sans', Arial, Helvetica, sans-serif" font-size="30" font-weight="normal" text-anchor="middle" fill="#0d0d0d" textLength="60" lengthAdjust="spacingAndGlyphs">Brain</text>
<text transform="translate(320.7 1154) scale(1 1.3)" font-family="'Liberation Sans', Arial, Helvetica, sans-serif" font-size="22" font-weight="bold" text-anchor="middle" fill="#0d0d0d" stroke="#0d0d0d" stroke-width="0.4" stroke-linejoin="round" textLength="102" lengthAdjust="spacingAndGlyphs">HE grade</text>
<text transform="translate(56 896) rotate(-90)" font-family="'Liberation Sans', Arial, Helvetica, sans-serif" font-size="24.3" font-weight="bold" text-anchor="middle" fill="#0d0d0d" stroke="#0d0d0d" stroke-width="0.4" stroke-linejoin="round" textLength="414" lengthAdjust="spacingAndGlyphs">Serum ammonia level (umol/L)</text>
</g>
<g id="panel-e">
<line x1="669.4" y1="721.25" x2="669.4" y2="1089.9" stroke="#000" stroke-width="3" stroke-linecap="butt"/>
<line x1="659.9" y1="1088.4" x2="1158.6" y2="1088.4" stroke="#000" stroke-width="3" stroke-linecap="butt"/>
<line x1="659.9" y1="722.5" x2="669.4" y2="722.5" stroke="#000" stroke-width="2.5" stroke-linecap="butt"/>
<text transform="translate(656.8 731.55) scale(1 1.2)" font-family="'Liberation Sans', Arial, Helvetica, sans-serif" font-size="23.4" font-weight="bold" text-anchor="end" fill="#0d0d0d" stroke="#0d0d0d" stroke-width="0.4" stroke-linejoin="round">250</text>
<line x1="659.9" y1="795.68" x2="669.4" y2="795.68" stroke="#000" stroke-width="2.5" stroke-linecap="butt"/>
<text transform="translate(656.8 804.73) scale(1 1.2)" font-family="'Liberation Sans', Arial, Helvetica, sans-serif" font-size="23.4" font-weight="bold" text-anchor="end" fill="#0d0d0d" stroke="#0d0d0d" stroke-width="0.4" stroke-linejoin="round">200</text>
<line x1="659.9" y1="868.86" x2="669.4" y2="868.86" stroke="#000" stroke-width="2.5" stroke-linecap="butt"/>
<text transform="translate(656.8 877.91) scale(1 1.2)" font-family="'Liberation Sans', Arial, Helvetica, sans-serif" font-size="23.4" font-weight="bold" text-anchor="end" fill="#0d0d0d" stroke="#0d0d0d" stroke-width="0.4" stroke-linejoin="round">150</text>
<line x1="659.9" y1="942.04" x2="669.4" y2="942.04" stroke="#000" stroke-width="2.5" stroke-linecap="butt"/>
<text transform="translate(656.8 951.09) scale(1 1.2)" font-family="'Liberation Sans', Arial, Helvetica, sans-serif" font-size="23.4" font-weight="bold" text-anchor="end" fill="#0d0d0d" stroke="#0d0d0d" stroke-width="0.4" stroke-linejoin="round">100</text>
<line x1="659.9" y1="1015.22" x2="669.4" y2="1015.22" stroke="#000" stroke-width="2.5" stroke-linecap="butt"/>
<text transform="translate(656.8 1024.27) scale(1 1.2)" font-family="'Liberation Sans', Arial, Helvetica, sans-serif" font-size="23.4" font-weight="bold" text-anchor="end" fill="#0d0d0d" stroke="#0d0d0d" stroke-width="0.4" stroke-linejoin="round">50</text>
<text transform="translate(656.8 1097.45) scale(1 1.2)" font-family="'Liberation Sans', Arial, Helvetica, sans-serif" font-size="23.4" font-weight="bold" text-anchor="end" fill="#0d0d0d" stroke="#0d0d0d" stroke-width="0.4" stroke-linejoin="round">0</text>
<line x1="751" y1="1088.4" x2="751" y2="1099.9" stroke="#000" stroke-width="2.5" stroke-linecap="butt"/>
<text transform="translate(759.5 1127.4) scale(1 1.2) rotate(-45)" font-family="'Liberation Sans', Arial, Helvetica, sans-serif" font-size="22" font-weight="bold" text-anchor="end" fill="#141414" stroke="#141414" stroke-width="0.4" stroke-linejoin="round">0-1</text>
<line x1="913.3" y1="1088.4" x2="913.3" y2="1099.9" stroke="#000" stroke-width="2.5" stroke-linecap="butt"/>
<text transform="translate(921.8 1127.4) scale(1 1.2) rotate(-45)" font-family="'Liberation Sans', Arial, Helvetica, sans-serif" font-size="22" font-weight="bold" text-anchor="end" fill="#141414" stroke="#141414" stroke-width="0.4" stroke-linejoin="round">2</text>
<line x1="1076" y1="1088.4" x2="1076" y2="1099.9" stroke="#000" stroke-width="2.5" stroke-linecap="butt"/>
<text transform="translate(1084.5 1127.4) scale(1 1.2) rotate(-45)" font-family="'Liberation Sans', Arial, Helvetica, sans-serif" font-size="22" font-weight="bold" text-anchor="end" fill="#141414" stroke="#141414" stroke-width="0.4" stroke-linejoin="round">3</text>
<g>
<circle cx="750.6" cy="758.2" r="3.05" fill="#080808"/>
<circle cx="760.4" cy="828.2" r="3.05" fill="#080808"/>
<circle cx="750.6" cy="834.3" r="3.05" fill="#080808"/>
<circle cx="750.6" cy="853.3" r="3.05" fill="#080808"/>
<circle cx="750.6" cy="872.2" r="3.05" fill="#080808"/>
<circle cx="740.8" cy="888" r="3.05" fill="#080808"/>
<circle cx="750.6" cy="895.6" r="3.05" fill="#080808"/>
<circle cx="750.6" cy="911.4" r="3.05" fill="#080808"/>
<circle cx="731" cy="918.5" r="3.05" fill="#080808"/>
<circle cx="740.8" cy="925.7" r="3.05" fill="#080808"/>
<circle cx="750.6" cy="927.1" r="3.05" fill="#080808"/>
<circle cx="760.4" cy="923.2" r="3.05" fill="#080808"/>
<circle cx="770.2" cy="917.2" r="3.05" fill="#080808"/>
<circle cx="731" cy="938.9" r="3.05" fill="#080808"/>
<circle cx="740.8" cy="943.2" r="3.05" fill="#080808"/>
<circle cx="750.6" cy="947.9" r="3.05" fill="#080808"/>
<circle cx="760.4" cy="946.3" r="3.05" fill="#080808"/>
<circle cx="770.2" cy="943.2" r="3.05" fill="#080808"/>
<circle cx="721.2" cy="952.2" r="3.05" fill="#080808"/>
<circle cx="731" cy="953.4" r="3.05" fill="#080808"/>
<circle cx="760.4" cy="955" r="3.05" fill="#080808"/>
<circle cx="770.2" cy="953.4" r="3.05" fill="#080808"/>
<circle cx="740.8" cy="959.8" r="3.05" fill="#080808"/>
<circle cx="750.6" cy="960.9" r="3.05" fill="#080808"/>
<circle cx="731" cy="965.3" r="3.05" fill="#080808"/>
<circle cx="740.8" cy="968.8" r="3.05" fill="#080808"/>
<circle cx="770.2" cy="966.6" r="3.05" fill="#080808"/>
<circle cx="780" cy="965.3" r="3.05" fill="#080808"/>
<circle cx="750.6" cy="972.7" r="3.05" fill="#080808"/>
<circle cx="760.4" cy="972.7" r="3.05" fill="#080808"/>
<circle cx="780" cy="974" r="3.05" fill="#080808"/>
<circle cx="721.2" cy="977.1" r="3.05" fill="#080808"/>
<circle cx="731" cy="982.7" r="3.05" fill="#080808"/>
<circle cx="740.8" cy="984" r="3.05" fill="#080808"/>
<circle cx="750.6" cy="984" r="3.05" fill="#080808"/>
<circle cx="760.4" cy="982.7" r="3.05" fill="#080808"/>
<circle cx="770.2" cy="981.1" r="3.05" fill="#080808"/>
<circle cx="701.6" cy="992" r="3.05" fill="#080808"/>
<circle cx="711.4" cy="992" r="3.05" fill="#080808"/>
<circle cx="789.8" cy="992" r="3.05" fill="#080808"/>
<circle cx="799.6" cy="992" r="3.05" fill="#080808"/>
<circle cx="721.2" cy="989.5" r="3.05" fill="#080808"/>
<circle cx="726.1" cy="989.5" r="3.05" fill="#080808"/>
<circle cx="731" cy="989.5" r="3.05" fill="#080808"/>
<circle cx="735.9" cy="989.5" r="3.05" fill="#080808"/>
<circle cx="740.8" cy="989.5" r="3.05" fill="#080808"/>
<circle cx="745.7" cy="989.5" r="3.05" fill="#080808"/>
<circle cx="750.6" cy="989.5" r="3.05" fill="#080808"/>
<circle cx="755.5" cy="989.5" r="3.05" fill="#080808"/>
<circle cx="760.4" cy="989.5" r="3.05" fill="#080808"/>
<circle cx="765.3" cy="989.5" r="3.05" fill="#080808"/>
<circle cx="770.2" cy="989.5" r="3.05" fill="#080808"/>
<circle cx="775.1" cy="989.5" r="3.05" fill="#080808"/>
<circle cx="726.1" cy="992.3" r="3.05" fill="#080808"/>
<circle cx="731" cy="992.3" r="3.05" fill="#080808"/>
<circle cx="735.9" cy="992.3" r="3.05" fill="#080808"/>
<circle cx="740.8" cy="992.3" r="3.05" fill="#080808"/>
<circle cx="745.7" cy="992.3" r="3.05" fill="#080808"/>
<circle cx="750.6" cy="992.3" r="3.05" fill="#080808"/>
<circle cx="755.5" cy="992.3" r="3.05" fill="#080808"/>
<circle cx="760.4" cy="992.3" r="3.05" fill="#080808"/>
<circle cx="765.3" cy="992.3" r="3.05" fill="#080808"/>
<circle cx="770.2" cy="992.3" r="3.05" fill="#080808"/>
<circle cx="775.1" cy="992.3" r="3.05" fill="#080808"/>
<circle cx="780" cy="992.3" r="3.05" fill="#080808"/>
<circle cx="721.2" cy="995.1" r="3.05" fill="#080808"/>
<circle cx="726.1" cy="995.1" r="3.05" fill="#080808"/>
<circle cx="731" cy="995.1" r="3.05" fill="#080808"/>
<circle cx="735.9" cy="995.1" r="3.05" fill="#080808"/>
<circle cx="740.8" cy="995.1" r="3.05" fill="#080808"/>
<circle cx="745.7" cy="995.1" r="3.05" fill="#080808"/>
<circle cx="750.6" cy="995.1" r="3.05" fill="#080808"/>
<circle cx="755.5" cy="995.1" r="3.05" fill="#080808"/>
<circle cx="760.4" cy="995.1" r="3.05" fill="#080808"/>
<circle cx="765.3" cy="995.1" r="3.05" fill="#080808"/>
<circle cx="770.2" cy="995.1" r="3.05" fill="#080808"/>
<circle cx="775.1" cy="995.1" r="3.05" fill="#080808"/>
<circle cx="726.1" cy="997.9" r="3.05" fill="#080808"/>
<circle cx="731" cy="997.9" r="3.05" fill="#080808"/>
<circle cx="735.9" cy="997.9" r="3.05" fill="#080808"/>
<circle cx="740.8" cy="997.9" r="3.05" fill="#080808"/>
<circle cx="745.7" cy="997.9" r="3.05" fill="#080808"/>
<circle cx="750.6" cy="997.9" r="3.05" fill="#080808"/>
<circle cx="755.5" cy="997.9" r="3.05" fill="#080808"/>
<circle cx="760.4" cy="997.9" r="3.05" fill="#080808"/>
<circle cx="765.3" cy="997.9" r="3.05" fill="#080808"/>
<circle cx="770.2" cy="997.9" r="3.05" fill="#080808"/>
<circle cx="775.1" cy="997.9" r="3.05" fill="#080808"/>
<circle cx="780" cy="997.9" r="3.05" fill="#080808"/>
<circle cx="721.2" cy="1000.7" r="3.05" fill="#080808"/>
<circle cx="726.1" cy="1000.7" r="3.05" fill="#080808"/>
<circle cx="731" cy="1000.7" r="3.05" fill="#080808"/>
<circle cx="735.9" cy="1000.7" r="3.05" fill="#080808"/>
<circle cx="740.8" cy="1000.7" r="3.05" fill="#080808"/>
<circle cx="745.7" cy="1000.7" r="3.05" fill="#080808"/>
<circle cx="750.6" cy="1000.7" r="3.05" fill="#080808"/>
<circle cx="755.5" cy="1000.7" r="3.05" fill="#080808"/>
<circle cx="760.4" cy="1000.7" r="3.05" fill="#080808"/>
<circle cx="765.3" cy="1000.7" r="3.05" fill="#080808"/>
<circle cx="770.2" cy="1000.7" r="3.05" fill="#080808"/>
<circle cx="775.1" cy="1000.7" r="3.05" fill="#080808"/>
<circle cx="726.1" cy="1003.5" r="3.05" fill="#080808"/>
<circle cx="731" cy="1003.5" r="3.05" fill="#080808"/>
<circle cx="735.9" cy="1003.5" r="3.05" fill="#080808"/>
<circle cx="740.8" cy="1003.5" r="3.05" fill="#080808"/>
<circle cx="745.7" cy="1003.5" r="3.05" fill="#080808"/>
<circle cx="750.6" cy="1003.5" r="3.05" fill="#080808"/>
<circle cx="755.5" cy="1003.5" r="3.05" fill="#080808"/>
<circle cx="760.4" cy="1003.5" r="3.05" fill="#080808"/>
<circle cx="765.3" cy="1003.5" r="3.05" fill="#080808"/>
<circle cx="770.2" cy="1003.5" r="3.05" fill="#080808"/>
<circle cx="775.1" cy="1003.5" r="3.05" fill="#080808"/>
<circle cx="780" cy="1003.5" r="3.05" fill="#080808"/>
<circle cx="780" cy="990" r="3.05" fill="#080808"/>
<circle cx="780" cy="998" r="3.05" fill="#080808"/>
<circle cx="701.6" cy="1008" r="3.05" fill="#080808"/>
<circle cx="711.4" cy="1008" r="3.05" fill="#080808"/>
<circle cx="716.3" cy="1003" r="3.05" fill="#080808"/>
<circle cx="784.9" cy="1003" r="3.05" fill="#080808"/>
<circle cx="789.8" cy="1007" r="3.05" fill="#080808"/>
<circle cx="799.6" cy="1004.8" r="3.05" fill="#080808"/>
<circle cx="721.2" cy="1011" r="3.05" fill="#080808"/>
<circle cx="731" cy="1012.7" r="3.05" fill="#080808"/>
<circle cx="740.8" cy="1013.5" r="3.05" fill="#080808"/>
<circle cx="750.6" cy="1013.5" r="3.05" fill="#080808"/>
<circle cx="760.4" cy="1013.5" r="3.05" fill="#080808"/>
<circle cx="770.2" cy="1012" r="3.05" fill="#080808"/>
<circle cx="780" cy="1009.5" r="3.05" fill="#080808"/>
<circle cx="789.8" cy="1018.2" r="3.05" fill="#080808"/>
<circle cx="721.2" cy="1021.4" r="3.05" fill="#080808"/>
<circle cx="731" cy="1023.4" r="3.05" fill="#080808"/>
<circle cx="740.8" cy="1025.3" r="3.05" fill="#080808"/>
<circle cx="750.6" cy="1028.2" r="3.05" fill="#080808"/>
<circle cx="760.4" cy="1025" r="3.05" fill="#080808"/>
<circle cx="770.2" cy="1023.4" r="3.05" fill="#080808"/>
<circle cx="780" cy="1023.4" r="3.05" fill="#080808"/>
<circle cx="721.2" cy="1032.4" r="3.05" fill="#080808"/>
<circle cx="731" cy="1035.9" r="3.05" fill="#080808"/>
<circle cx="740.8" cy="1038.8" r="3.05" fill="#080808"/>
<circle cx="745.7" cy="1040.3" r="3.05" fill="#080808"/>
<circle cx="750.6" cy="1040.3" r="3.05" fill="#080808"/>
<circle cx="755.5" cy="1041.9" r="3.05" fill="#080808"/>
<circle cx="760.4" cy="1036.4" r="3.05" fill="#080808"/>
<circle cx="770.2" cy="1032.4" r="3.05" fill="#080808"/>
<circle cx="701.6" cy="1044.3" r="3.05" fill="#080808"/>
<circle cx="711.4" cy="1044.3" r="3.05" fill="#080808"/>
<circle cx="721.2" cy="1047.4" r="3.05" fill="#080808"/>
<circle cx="731" cy="1048.7" r="3.05" fill="#080808"/>
<circle cx="740.8" cy="1049.8" r="3.05" fill="#080808"/>
<circle cx="750.6" cy="1050.9" r="3.05" fill="#080808"/>
<circle cx="760.4" cy="1049.8" r="3.05" fill="#080808"/>
<circle cx="770.2" cy="1048.7" r="3.05" fill="#080808"/>
<circle cx="780" cy="1047.4" r="3.05" fill="#080808"/>
<circle cx="789.8" cy="1046.7" r="3.05" fill="#080808"/>
<circle cx="799.6" cy="1044.3" r="3.05" fill="#080808"/>
<circle cx="711.4" cy="1056.1" r="3.05" fill="#080808"/>
<circle cx="721.2" cy="1060.1" r="3.05" fill="#080808"/>
<circle cx="731" cy="1062.4" r="3.05" fill="#080808"/>
<circle cx="731" cy="1069.6" r="3.05" fill="#080808"/>
<circle cx="740.8" cy="1061.7" r="3.05" fill="#080808"/>
<circle cx="740.8" cy="1070.8" r="3.05" fill="#080808"/>
<circle cx="750.6" cy="1063.2" r="3.05" fill="#080808"/>
<circle cx="760.4" cy="1061.7" r="3.05" fill="#080808"/>
<circle cx="770.2" cy="1062.4" r="3.05" fill="#080808"/>
<circle cx="770.2" cy="1069.6" r="3.05" fill="#080808"/>
<circle cx="780" cy="1058.5" r="3.05" fill="#080808"/>
<circle cx="789.8" cy="1054.5" r="3.05" fill="#080808"/>
<circle cx="789.8" cy="1054.5" r="3.05" fill="#080808"/>
<circle cx="750.6" cy="1076.2" r="3.05" fill="#080808"/>
<circle cx="760.4" cy="1075.1" r="3.05" fill="#080808"/>
</g>
<g>
<rect x="920.55" y="819.15" width="6.1" height="6.1" fill="#080808"/>
<rect x="910.55" y="827.65" width="6.1" height="6.1" fill="#080808"/>
<rect x="910.55" y="842.85" width="6.1" height="6.1" fill="#080808"/>
<rect x="920.55" y="876.45" width="6.1" height="6.1" fill="#080808"/>
<rect x="910.55" y="883.65" width="6.1" height="6.1" fill="#080808"/>
<rect x="900.55" y="891.35" width="6.1" height="6.1" fill="#080808"/>
<rect x="910.55" y="897.25" width="6.1" height="6.1" fill="#080808"/>
<rect x="890.55" y="911.45" width="6.1" height="6.1" fill="#080808"/>
<rect x="900.55" y="915.05" width="6.1" height="6.1" fill="#080808"/>
<rect x="910.55" y="917.15" width="6.1" height="6.1" fill="#080808"/>
<rect x="920.55" y="915.05" width="6.1" height="6.1" fill="#080808"/>
<rect x="930.55" y="915.05" width="6.1" height="6.1" fill="#080808"/>
<rect x="900.55" y="926.95" width="6.1" height="6.1" fill="#080808"/>
<rect x="910.55" y="928.75" width="6.1" height="6.1" fill="#080808"/>
<rect x="920.55" y="933.85" width="6.1" height="6.1" fill="#080808"/>
<rect x="910.55" y="942.95" width="6.1" height="6.1" fill="#080808"/>
<rect x="900.55" y="954.55" width="6.1" height="6.1" fill="#080808"/>
<rect x="910.55" y="954.55" width="6.1" height="6.1" fill="#080808"/>
<rect x="920.55" y="954.55" width="6.1" height="6.1" fill="#080808"/>
<rect x="910.55" y="964.85" width="6.1" height="6.1" fill="#080808"/>
<rect x="920.55" y="964.85" width="6.1" height="6.1" fill="#080808"/>
<rect x="900.55" y="982.15" width="6.1" height="6.1" fill="#080808"/>
<rect x="920.55" y="979.75" width="6.1" height="6.1" fill="#080808"/>
<rect x="910.55" y="989.35" width="6.1" height="6.1" fill="#080808"/>
<rect x="930.55" y="994.45" width="6.1" height="6.1" fill="#080808"/>
<rect x="900.55" y="1000.95" width="6.1" height="6.1" fill="#080808"/>
<rect x="910.55" y="1002.25" width="6.1" height="6.1" fill="#080808"/>
<rect x="920.55" y="1000.95" width="6.1" height="6.1" fill="#080808"/>
<rect x="900.55" y="1009.45" width="6.1" height="6.1" fill="#080808"/>
<rect x="920.55" y="1009.45" width="6.1" height="6.1" fill="#080808"/>
<rect x="910.55" y="1018.95" width="6.1" height="6.1" fill="#080808"/>
<rect x="910.55" y="1040.35" width="6.1" height="6.1" fill="#080808"/>
<rect x="900.55" y="1051.15" width="6.1" height="6.1" fill="#080808"/>
<rect x="910.55" y="1055.05" width="6.1" height="6.1" fill="#080808"/>
<rect x="930.55" y="1058.45" width="6.1" height="6.1" fill="#080808"/>
<rect x="900.55" y="1063.55" width="6.1" height="6.1" fill="#080808"/>
<rect x="920.55" y="1064.85" width="6.1" height="6.1" fill="#080808"/>
<rect x="910.55" y="1070.05" width="6.1" height="6.1" fill="#080808"/>
</g>
<g>
<polygon points="1086.1,852.84 1089.15,859.25 1083.05,859.25" fill="#080808"/>
<polygon points="1076,860.04 1079.05,866.45 1072.95,866.45" fill="#080808"/>
<polygon points="1086.1,861.14 1089.15,867.54 1083.05,867.54" fill="#080808"/>
<polygon points="1065.9,868.34 1068.95,874.75 1062.85,874.75" fill="#080808"/>
<polygon points="1076,871.84 1079.05,878.25 1072.95,878.25" fill="#080808"/>
<polygon points="1086.1,876.14 1089.15,882.54 1083.05,882.54" fill="#080808"/>
<polygon points="1076,886.44 1079.05,892.85 1072.95,892.85" fill="#080808"/>
<polygon points="1076,900.34 1079.05,906.75 1072.95,906.75" fill="#080808"/>
<polygon points="1065.9,909.84 1068.95,916.25 1062.85,916.25" fill="#080808"/>
<polygon points="1096.2,908.24 1099.25,914.64 1093.15,914.64" fill="#080808"/>
<polygon points="1086.1,912.04 1089.15,918.45 1083.05,918.45" fill="#080808"/>
<polygon points="1076,915.64 1079.05,922.04 1072.95,922.04" fill="#080808"/>
<polygon points="1065.9,939.64 1068.95,946.04 1062.85,946.04" fill="#080808"/>
<polygon points="1086.1,939.64 1089.15,946.04 1083.05,946.04" fill="#080808"/>
<polygon points="1065.9,924.34 1068.95,930.75 1062.85,930.75" fill="#080808"/>
<polygon points="1086.1,924.34 1089.15,930.75 1083.05,930.75" fill="#080808"/>
<polygon points="1086.1,962.04 1089.15,968.45 1083.05,968.45" fill="#080808"/>
<polygon points="1065.9,968.14 1068.95,974.54 1062.85,974.54" fill="#080808"/>
<polygon points="1076,972.64 1079.05,979.04 1072.95,979.04" fill="#080808"/>
<polygon points="1065.9,990.14 1068.95,996.54 1062.85,996.54" fill="#080808"/>
<polygon points="1086.1,991.24 1089.15,997.64 1083.05,997.64" fill="#080808"/>
<polygon points="1076,997.94 1079.05,1004.35 1072.95,1004.35" fill="#080808"/>
<polygon points="1076,1022.64 1079.05,1029.04 1072.95,1029.04" fill="#080808"/>
<polygon points="1086.1,1048.44 1089.15,1054.84 1083.05,1054.84" fill="#080808"/>
<polygon points="1076,1053.64 1079.05,1060.04 1072.95,1060.04" fill="#080808"/>
</g>
<line x1="695.3" y1="996.6" x2="806.6" y2="996.6" stroke="#080808" stroke-width="3.5" stroke-linecap="butt"/>
<line x1="721.3" y1="990.6" x2="779.8" y2="990.6" stroke="#080808" stroke-width="4.4" stroke-linecap="butt"/>
<line x1="721.3" y1="1002.4" x2="779.8" y2="1002.4" stroke="#080808" stroke-width="4.4" stroke-linecap="butt"/>
<line x1="750.6" y1="990.6" x2="750.6" y2="1002.4" stroke="#080808" stroke-width="3.9" stroke-linecap="butt"/>
<line x1="858.4" y1="964" x2="969.5" y2="964" stroke="#080808" stroke-width="3.5" stroke-linecap="butt"/>
<line x1="884.2" y1="953.2" x2="942.4" y2="953.2" stroke="#080808" stroke-width="4.4" stroke-linecap="butt"/>
<line x1="884.2" y1="975.1" x2="942.4" y2="975.1" stroke="#080808" stroke-width="4.4" stroke-linecap="butt"/>
<line x1="913.6" y1="953.2" x2="913.6" y2="975.1" stroke="#080808" stroke-width="3.9" stroke-linecap="butt"/>
<line x1="1020.8" y1="937.2" x2="1132.3" y2="937.2" stroke="#080808" stroke-width="3.5" stroke-linecap="butt"/>
<line x1="1047" y1="926" x2="1106" y2="926" stroke="#080808" stroke-width="4.4" stroke-linecap="butt"/>
<line x1="1047" y1="947.8" x2="1106" y2="947.8" stroke="#080808" stroke-width="4.4" stroke-linecap="butt"/>
<line x1="1076" y1="926" x2="1076" y2="947.8" stroke="#080808" stroke-width="3.9" stroke-linecap="butt"/>
<line x1="740.5" y1="704.2" x2="1107" y2="704.2" stroke="#080808" stroke-width="4.6" stroke-linecap="butt"/>
<line x1="740.5" y1="694" x2="740.5" y2="715" stroke="#080808" stroke-width="4" stroke-linecap="round"/>
<line x1="1107" y1="694" x2="1107" y2="715" stroke="#080808" stroke-width="4" stroke-linecap="round"/>
<text transform="translate(887 680.3) scale(1 1.15)" font-family="'Liberation Sans', Arial, Helvetica, sans-serif" font-size="29.3" font-weight="bold" text-anchor="middle" fill="#0d0d0d" stroke="#0d0d0d" stroke-width="0.4" stroke-linejoin="round" textLength="151" lengthAdjust="spacingAndGlyphs">P&lt;0.001***</text>
<text transform="translate(651 662.3) scale(1 0.98)" font-family="'Liberation Serif', 'Times New Roman', serif" font-size="37" font-weight="bold" text-anchor="start" fill="#050505" stroke="#050505" stroke-width="0.7" stroke-linejoin="round">e</text>
<rect x="848.5" y="712" width="97" height="54" fill="none" stroke="#080808" stroke-width="4.3"/>
<text transform="translate(897 750) scale(1 1.18)" font-family="'Liberation Sans', Arial, Helvetica, sans-serif" font-size="30" font-weight="normal" text-anchor="middle" fill="#0d0d0d" textLength="80" lengthAdjust="spacingAndGlyphs">ACLF</text>
<text transform="translate(900.6 1186.5) scale(1 1.2)" font-family="'Liberation Sans', Arial, Helvetica, sans-serif" font-size="24.3" font-weight="bold" text-anchor="middle" fill="#0d0d0d" stroke="#0d0d0d" stroke-width="0.4" stroke-linejoin="round" textLength="150" lengthAdjust="spacingAndGlyphs">ACLF grade</text>
<text transform="translate(601.3 903.5) rotate(-90)" font-family="'Liberation Sans', Arial, Helvetica, sans-serif" font-size="26.5" font-weight="bold" text-anchor="middle" fill="#0d0d0d" stroke="#0d0d0d" stroke-width="0.4" stroke-linejoin="round" textLength="427" lengthAdjust="spacingAndGlyphs">Serum ammonia level (umol/L)</text>
</g>
</g>
</svg>
</body></html>
